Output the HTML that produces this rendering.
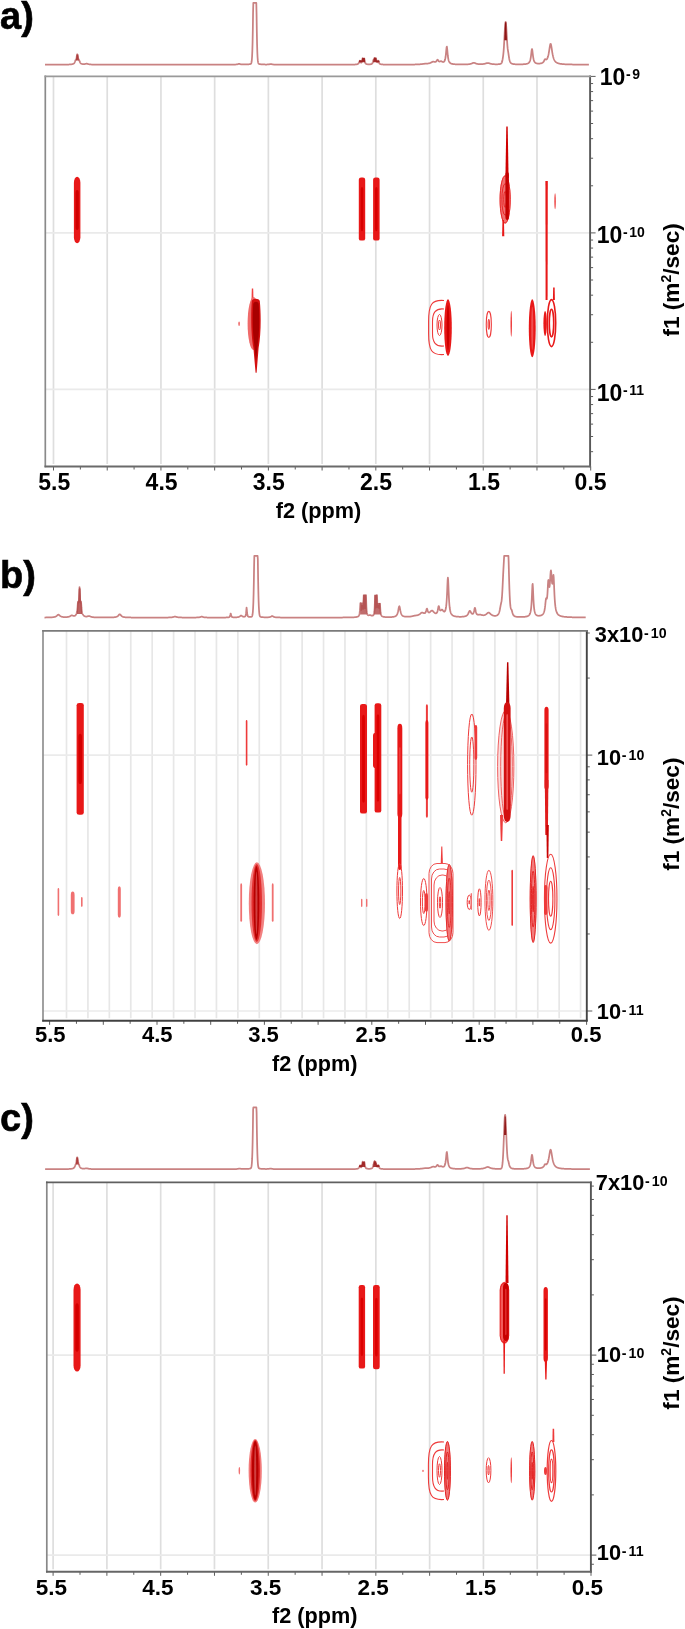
<!DOCTYPE html>
<html><head><meta charset="utf-8"><style>
html,body{margin:0;padding:0;background:#fff;}
svg{display:block;filter:blur(0.35px);}
text{font-family:"Liberation Sans", sans-serif;font-weight:bold;fill:#000000;}
</style></head><body>
<svg width="685" height="1629" viewBox="0 0 685 1629">
<rect width="685" height="1629" fill="#fff"/>
<line x1="53.50" y1="76.3" x2="53.50" y2="464.0" stroke="#dedede" stroke-width="1.7"/>
<line x1="107.22" y1="76.3" x2="107.22" y2="464.0" stroke="#dedede" stroke-width="1.7"/>
<line x1="160.94" y1="76.3" x2="160.94" y2="464.0" stroke="#dedede" stroke-width="1.7"/>
<line x1="214.66" y1="76.3" x2="214.66" y2="464.0" stroke="#dedede" stroke-width="1.7"/>
<line x1="268.38" y1="76.3" x2="268.38" y2="464.0" stroke="#dedede" stroke-width="1.7"/>
<line x1="322.10" y1="76.3" x2="322.10" y2="464.0" stroke="#dedede" stroke-width="1.7"/>
<line x1="375.82" y1="76.3" x2="375.82" y2="464.0" stroke="#dedede" stroke-width="1.7"/>
<line x1="429.54" y1="76.3" x2="429.54" y2="464.0" stroke="#dedede" stroke-width="1.7"/>
<line x1="483.26" y1="76.3" x2="483.26" y2="464.0" stroke="#dedede" stroke-width="1.7"/>
<line x1="536.98" y1="76.3" x2="536.98" y2="464.0" stroke="#dedede" stroke-width="1.7"/>
<line x1="45.3" y1="232.90" x2="590.1" y2="232.90" stroke="#eaeaea" stroke-width="1.6"/>
<line x1="45.3" y1="389.40" x2="590.1" y2="389.40" stroke="#eaeaea" stroke-width="1.6"/>
<line x1="53.50" y1="466.5" x2="53.50" y2="470.5" stroke="#5c5c5c" stroke-width="1"/>
<line x1="80.36" y1="466.5" x2="80.36" y2="469.5" stroke="#5c5c5c" stroke-width="1"/>
<line x1="107.22" y1="466.5" x2="107.22" y2="470.5" stroke="#5c5c5c" stroke-width="1"/>
<line x1="134.08" y1="466.5" x2="134.08" y2="469.5" stroke="#5c5c5c" stroke-width="1"/>
<line x1="160.94" y1="466.5" x2="160.94" y2="470.5" stroke="#5c5c5c" stroke-width="1"/>
<line x1="187.80" y1="466.5" x2="187.80" y2="469.5" stroke="#5c5c5c" stroke-width="1"/>
<line x1="214.66" y1="466.5" x2="214.66" y2="470.5" stroke="#5c5c5c" stroke-width="1"/>
<line x1="241.52" y1="466.5" x2="241.52" y2="469.5" stroke="#5c5c5c" stroke-width="1"/>
<line x1="268.38" y1="466.5" x2="268.38" y2="470.5" stroke="#5c5c5c" stroke-width="1"/>
<line x1="295.24" y1="466.5" x2="295.24" y2="469.5" stroke="#5c5c5c" stroke-width="1"/>
<line x1="322.10" y1="466.5" x2="322.10" y2="470.5" stroke="#5c5c5c" stroke-width="1"/>
<line x1="348.96" y1="466.5" x2="348.96" y2="469.5" stroke="#5c5c5c" stroke-width="1"/>
<line x1="375.82" y1="466.5" x2="375.82" y2="470.5" stroke="#5c5c5c" stroke-width="1"/>
<line x1="402.68" y1="466.5" x2="402.68" y2="469.5" stroke="#5c5c5c" stroke-width="1"/>
<line x1="429.54" y1="466.5" x2="429.54" y2="470.5" stroke="#5c5c5c" stroke-width="1"/>
<line x1="456.40" y1="466.5" x2="456.40" y2="469.5" stroke="#5c5c5c" stroke-width="1"/>
<line x1="483.26" y1="466.5" x2="483.26" y2="470.5" stroke="#5c5c5c" stroke-width="1"/>
<line x1="510.12" y1="466.5" x2="510.12" y2="469.5" stroke="#5c5c5c" stroke-width="1"/>
<line x1="536.98" y1="466.5" x2="536.98" y2="470.5" stroke="#5c5c5c" stroke-width="1"/>
<line x1="563.84" y1="466.5" x2="563.84" y2="469.5" stroke="#5c5c5c" stroke-width="1"/>
<line x1="590.70" y1="466.5" x2="590.70" y2="470.5" stroke="#5c5c5c" stroke-width="1"/>
<line x1="590.1" y1="451.68" x2="593.1" y2="451.68" stroke="#5c5c5c" stroke-width="1"/>
<line x1="590.1" y1="436.51" x2="593.1" y2="436.51" stroke="#5c5c5c" stroke-width="1"/>
<line x1="590.1" y1="424.12" x2="593.1" y2="424.12" stroke="#5c5c5c" stroke-width="1"/>
<line x1="590.1" y1="413.64" x2="593.1" y2="413.64" stroke="#5c5c5c" stroke-width="1"/>
<line x1="590.1" y1="404.57" x2="593.1" y2="404.57" stroke="#5c5c5c" stroke-width="1"/>
<line x1="590.1" y1="396.56" x2="593.1" y2="396.56" stroke="#5c5c5c" stroke-width="1"/>
<line x1="590.1" y1="389.40" x2="595.6" y2="389.40" stroke="#5c5c5c" stroke-width="1"/>
<line x1="590.1" y1="342.29" x2="593.1" y2="342.29" stroke="#5c5c5c" stroke-width="1"/>
<line x1="590.1" y1="314.73" x2="593.1" y2="314.73" stroke="#5c5c5c" stroke-width="1"/>
<line x1="590.1" y1="295.18" x2="593.1" y2="295.18" stroke="#5c5c5c" stroke-width="1"/>
<line x1="590.1" y1="280.01" x2="593.1" y2="280.01" stroke="#5c5c5c" stroke-width="1"/>
<line x1="590.1" y1="267.62" x2="593.1" y2="267.62" stroke="#5c5c5c" stroke-width="1"/>
<line x1="590.1" y1="257.14" x2="593.1" y2="257.14" stroke="#5c5c5c" stroke-width="1"/>
<line x1="590.1" y1="248.07" x2="593.1" y2="248.07" stroke="#5c5c5c" stroke-width="1"/>
<line x1="590.1" y1="240.06" x2="593.1" y2="240.06" stroke="#5c5c5c" stroke-width="1"/>
<line x1="590.1" y1="232.90" x2="595.6" y2="232.90" stroke="#5c5c5c" stroke-width="1"/>
<line x1="590.1" y1="185.79" x2="593.1" y2="185.79" stroke="#5c5c5c" stroke-width="1"/>
<line x1="590.1" y1="158.23" x2="593.1" y2="158.23" stroke="#5c5c5c" stroke-width="1"/>
<line x1="590.1" y1="138.68" x2="593.1" y2="138.68" stroke="#5c5c5c" stroke-width="1"/>
<line x1="590.1" y1="123.51" x2="593.1" y2="123.51" stroke="#5c5c5c" stroke-width="1"/>
<line x1="590.1" y1="111.12" x2="593.1" y2="111.12" stroke="#5c5c5c" stroke-width="1"/>
<line x1="590.1" y1="100.64" x2="593.1" y2="100.64" stroke="#5c5c5c" stroke-width="1"/>
<line x1="590.1" y1="91.57" x2="593.1" y2="91.57" stroke="#5c5c5c" stroke-width="1"/>
<line x1="590.1" y1="83.56" x2="593.1" y2="83.56" stroke="#5c5c5c" stroke-width="1"/>
<line x1="590.1" y1="76.40" x2="595.6" y2="76.40" stroke="#5c5c5c" stroke-width="1"/>
<line x1="66.50" y1="630.8" x2="66.50" y2="1018.3" stroke="#e7e7e7" stroke-width="1.7"/>
<line x1="87.92" y1="630.8" x2="87.92" y2="1018.3" stroke="#e7e7e7" stroke-width="1.7"/>
<line x1="109.34" y1="630.8" x2="109.34" y2="1018.3" stroke="#e7e7e7" stroke-width="1.7"/>
<line x1="130.76" y1="630.8" x2="130.76" y2="1018.3" stroke="#e7e7e7" stroke-width="1.7"/>
<line x1="152.18" y1="630.8" x2="152.18" y2="1018.3" stroke="#e7e7e7" stroke-width="1.7"/>
<line x1="173.60" y1="630.8" x2="173.60" y2="1018.3" stroke="#e7e7e7" stroke-width="1.7"/>
<line x1="195.02" y1="630.8" x2="195.02" y2="1018.3" stroke="#e7e7e7" stroke-width="1.7"/>
<line x1="216.44" y1="630.8" x2="216.44" y2="1018.3" stroke="#e7e7e7" stroke-width="1.7"/>
<line x1="237.86" y1="630.8" x2="237.86" y2="1018.3" stroke="#e7e7e7" stroke-width="1.7"/>
<line x1="259.28" y1="630.8" x2="259.28" y2="1018.3" stroke="#e7e7e7" stroke-width="1.7"/>
<line x1="280.70" y1="630.8" x2="280.70" y2="1018.3" stroke="#e7e7e7" stroke-width="1.7"/>
<line x1="302.12" y1="630.8" x2="302.12" y2="1018.3" stroke="#e7e7e7" stroke-width="1.7"/>
<line x1="323.54" y1="630.8" x2="323.54" y2="1018.3" stroke="#e7e7e7" stroke-width="1.7"/>
<line x1="344.96" y1="630.8" x2="344.96" y2="1018.3" stroke="#e7e7e7" stroke-width="1.7"/>
<line x1="366.38" y1="630.8" x2="366.38" y2="1018.3" stroke="#e7e7e7" stroke-width="1.7"/>
<line x1="387.80" y1="630.8" x2="387.80" y2="1018.3" stroke="#e7e7e7" stroke-width="1.7"/>
<line x1="409.22" y1="630.8" x2="409.22" y2="1018.3" stroke="#e7e7e7" stroke-width="1.7"/>
<line x1="430.64" y1="630.8" x2="430.64" y2="1018.3" stroke="#e7e7e7" stroke-width="1.7"/>
<line x1="452.06" y1="630.8" x2="452.06" y2="1018.3" stroke="#e7e7e7" stroke-width="1.7"/>
<line x1="473.48" y1="630.8" x2="473.48" y2="1018.3" stroke="#e7e7e7" stroke-width="1.7"/>
<line x1="494.90" y1="630.8" x2="494.90" y2="1018.3" stroke="#e7e7e7" stroke-width="1.7"/>
<line x1="516.32" y1="630.8" x2="516.32" y2="1018.3" stroke="#e7e7e7" stroke-width="1.7"/>
<line x1="537.74" y1="630.8" x2="537.74" y2="1018.3" stroke="#e7e7e7" stroke-width="1.7"/>
<line x1="559.16" y1="630.8" x2="559.16" y2="1018.3" stroke="#e7e7e7" stroke-width="1.7"/>
<line x1="580.58" y1="630.8" x2="580.58" y2="1018.3" stroke="#e7e7e7" stroke-width="1.7"/>
<line x1="43.0" y1="755.10" x2="586.8" y2="755.10" stroke="#ebebeb" stroke-width="1.6"/>
<line x1="43.0" y1="1011.00" x2="586.8" y2="1011.00" stroke="#ebebeb" stroke-width="1.6"/>
<line x1="49.60" y1="1020.8" x2="49.60" y2="1024.8" stroke="#5c5c5c" stroke-width="1"/>
<line x1="76.45" y1="1020.8" x2="76.45" y2="1023.8" stroke="#5c5c5c" stroke-width="1"/>
<line x1="103.30" y1="1020.8" x2="103.30" y2="1024.8" stroke="#5c5c5c" stroke-width="1"/>
<line x1="130.15" y1="1020.8" x2="130.15" y2="1023.8" stroke="#5c5c5c" stroke-width="1"/>
<line x1="157.00" y1="1020.8" x2="157.00" y2="1024.8" stroke="#5c5c5c" stroke-width="1"/>
<line x1="183.85" y1="1020.8" x2="183.85" y2="1023.8" stroke="#5c5c5c" stroke-width="1"/>
<line x1="210.70" y1="1020.8" x2="210.70" y2="1024.8" stroke="#5c5c5c" stroke-width="1"/>
<line x1="237.55" y1="1020.8" x2="237.55" y2="1023.8" stroke="#5c5c5c" stroke-width="1"/>
<line x1="264.40" y1="1020.8" x2="264.40" y2="1024.8" stroke="#5c5c5c" stroke-width="1"/>
<line x1="291.25" y1="1020.8" x2="291.25" y2="1023.8" stroke="#5c5c5c" stroke-width="1"/>
<line x1="318.10" y1="1020.8" x2="318.10" y2="1024.8" stroke="#5c5c5c" stroke-width="1"/>
<line x1="344.95" y1="1020.8" x2="344.95" y2="1023.8" stroke="#5c5c5c" stroke-width="1"/>
<line x1="371.80" y1="1020.8" x2="371.80" y2="1024.8" stroke="#5c5c5c" stroke-width="1"/>
<line x1="398.65" y1="1020.8" x2="398.65" y2="1023.8" stroke="#5c5c5c" stroke-width="1"/>
<line x1="425.50" y1="1020.8" x2="425.50" y2="1024.8" stroke="#5c5c5c" stroke-width="1"/>
<line x1="452.35" y1="1020.8" x2="452.35" y2="1023.8" stroke="#5c5c5c" stroke-width="1"/>
<line x1="479.20" y1="1020.8" x2="479.20" y2="1024.8" stroke="#5c5c5c" stroke-width="1"/>
<line x1="506.05" y1="1020.8" x2="506.05" y2="1023.8" stroke="#5c5c5c" stroke-width="1"/>
<line x1="532.90" y1="1020.8" x2="532.90" y2="1024.8" stroke="#5c5c5c" stroke-width="1"/>
<line x1="559.75" y1="1020.8" x2="559.75" y2="1023.8" stroke="#5c5c5c" stroke-width="1"/>
<line x1="586.60" y1="1020.8" x2="586.60" y2="1024.8" stroke="#5c5c5c" stroke-width="1"/>
<line x1="586.8" y1="1011.00" x2="592.3" y2="1011.00" stroke="#5c5c5c" stroke-width="1"/>
<line x1="586.8" y1="933.97" x2="589.8" y2="933.97" stroke="#5c5c5c" stroke-width="1"/>
<line x1="586.8" y1="888.90" x2="589.8" y2="888.90" stroke="#5c5c5c" stroke-width="1"/>
<line x1="586.8" y1="856.93" x2="589.8" y2="856.93" stroke="#5c5c5c" stroke-width="1"/>
<line x1="586.8" y1="832.13" x2="589.8" y2="832.13" stroke="#5c5c5c" stroke-width="1"/>
<line x1="586.8" y1="811.87" x2="589.8" y2="811.87" stroke="#5c5c5c" stroke-width="1"/>
<line x1="586.8" y1="794.74" x2="589.8" y2="794.74" stroke="#5c5c5c" stroke-width="1"/>
<line x1="586.8" y1="779.90" x2="589.8" y2="779.90" stroke="#5c5c5c" stroke-width="1"/>
<line x1="586.8" y1="766.81" x2="589.8" y2="766.81" stroke="#5c5c5c" stroke-width="1"/>
<line x1="586.8" y1="755.10" x2="592.3" y2="755.10" stroke="#5c5c5c" stroke-width="1"/>
<line x1="586.8" y1="678.07" x2="589.8" y2="678.07" stroke="#5c5c5c" stroke-width="1"/>
<line x1="586.8" y1="633.00" x2="589.8" y2="633.00" stroke="#5c5c5c" stroke-width="1"/>
<line x1="53.10" y1="1182.4" x2="53.10" y2="1569.3" stroke="#dedede" stroke-width="1.7"/>
<line x1="106.89" y1="1182.4" x2="106.89" y2="1569.3" stroke="#dedede" stroke-width="1.7"/>
<line x1="160.68" y1="1182.4" x2="160.68" y2="1569.3" stroke="#dedede" stroke-width="1.7"/>
<line x1="214.47" y1="1182.4" x2="214.47" y2="1569.3" stroke="#dedede" stroke-width="1.7"/>
<line x1="268.26" y1="1182.4" x2="268.26" y2="1569.3" stroke="#dedede" stroke-width="1.7"/>
<line x1="322.05" y1="1182.4" x2="322.05" y2="1569.3" stroke="#dedede" stroke-width="1.7"/>
<line x1="375.84" y1="1182.4" x2="375.84" y2="1569.3" stroke="#dedede" stroke-width="1.7"/>
<line x1="429.63" y1="1182.4" x2="429.63" y2="1569.3" stroke="#dedede" stroke-width="1.7"/>
<line x1="483.42" y1="1182.4" x2="483.42" y2="1569.3" stroke="#dedede" stroke-width="1.7"/>
<line x1="537.21" y1="1182.4" x2="537.21" y2="1569.3" stroke="#dedede" stroke-width="1.7"/>
<line x1="46.8" y1="1355.10" x2="590.9" y2="1355.10" stroke="#eaeaea" stroke-width="1.6"/>
<line x1="46.8" y1="1555.10" x2="590.9" y2="1555.10" stroke="#eaeaea" stroke-width="1.6"/>
<line x1="53.10" y1="1571.8" x2="53.10" y2="1575.8" stroke="#5c5c5c" stroke-width="1"/>
<line x1="80.00" y1="1571.8" x2="80.00" y2="1574.8" stroke="#5c5c5c" stroke-width="1"/>
<line x1="106.89" y1="1571.8" x2="106.89" y2="1575.8" stroke="#5c5c5c" stroke-width="1"/>
<line x1="133.78" y1="1571.8" x2="133.78" y2="1574.8" stroke="#5c5c5c" stroke-width="1"/>
<line x1="160.68" y1="1571.8" x2="160.68" y2="1575.8" stroke="#5c5c5c" stroke-width="1"/>
<line x1="187.57" y1="1571.8" x2="187.57" y2="1574.8" stroke="#5c5c5c" stroke-width="1"/>
<line x1="214.47" y1="1571.8" x2="214.47" y2="1575.8" stroke="#5c5c5c" stroke-width="1"/>
<line x1="241.36" y1="1571.8" x2="241.36" y2="1574.8" stroke="#5c5c5c" stroke-width="1"/>
<line x1="268.26" y1="1571.8" x2="268.26" y2="1575.8" stroke="#5c5c5c" stroke-width="1"/>
<line x1="295.15" y1="1571.8" x2="295.15" y2="1574.8" stroke="#5c5c5c" stroke-width="1"/>
<line x1="322.05" y1="1571.8" x2="322.05" y2="1575.8" stroke="#5c5c5c" stroke-width="1"/>
<line x1="348.94" y1="1571.8" x2="348.94" y2="1574.8" stroke="#5c5c5c" stroke-width="1"/>
<line x1="375.84" y1="1571.8" x2="375.84" y2="1575.8" stroke="#5c5c5c" stroke-width="1"/>
<line x1="402.74" y1="1571.8" x2="402.74" y2="1574.8" stroke="#5c5c5c" stroke-width="1"/>
<line x1="429.63" y1="1571.8" x2="429.63" y2="1575.8" stroke="#5c5c5c" stroke-width="1"/>
<line x1="456.53" y1="1571.8" x2="456.53" y2="1574.8" stroke="#5c5c5c" stroke-width="1"/>
<line x1="483.42" y1="1571.8" x2="483.42" y2="1575.8" stroke="#5c5c5c" stroke-width="1"/>
<line x1="510.31" y1="1571.8" x2="510.31" y2="1574.8" stroke="#5c5c5c" stroke-width="1"/>
<line x1="537.21" y1="1571.8" x2="537.21" y2="1575.8" stroke="#5c5c5c" stroke-width="1"/>
<line x1="564.11" y1="1571.8" x2="564.11" y2="1574.8" stroke="#5c5c5c" stroke-width="1"/>
<line x1="591.00" y1="1571.8" x2="591.00" y2="1575.8" stroke="#5c5c5c" stroke-width="1"/>
<line x1="590.9" y1="1564.25" x2="593.9" y2="1564.25" stroke="#5c5c5c" stroke-width="1"/>
<line x1="590.9" y1="1555.10" x2="596.4" y2="1555.10" stroke="#5c5c5c" stroke-width="1"/>
<line x1="590.9" y1="1494.89" x2="593.9" y2="1494.89" stroke="#5c5c5c" stroke-width="1"/>
<line x1="590.9" y1="1459.68" x2="593.9" y2="1459.68" stroke="#5c5c5c" stroke-width="1"/>
<line x1="590.9" y1="1434.69" x2="593.9" y2="1434.69" stroke="#5c5c5c" stroke-width="1"/>
<line x1="590.9" y1="1415.31" x2="593.9" y2="1415.31" stroke="#5c5c5c" stroke-width="1"/>
<line x1="590.9" y1="1399.47" x2="593.9" y2="1399.47" stroke="#5c5c5c" stroke-width="1"/>
<line x1="590.9" y1="1386.08" x2="593.9" y2="1386.08" stroke="#5c5c5c" stroke-width="1"/>
<line x1="590.9" y1="1374.48" x2="593.9" y2="1374.48" stroke="#5c5c5c" stroke-width="1"/>
<line x1="590.9" y1="1364.25" x2="593.9" y2="1364.25" stroke="#5c5c5c" stroke-width="1"/>
<line x1="590.9" y1="1355.10" x2="596.4" y2="1355.10" stroke="#5c5c5c" stroke-width="1"/>
<line x1="590.9" y1="1294.89" x2="593.9" y2="1294.89" stroke="#5c5c5c" stroke-width="1"/>
<line x1="590.9" y1="1259.68" x2="593.9" y2="1259.68" stroke="#5c5c5c" stroke-width="1"/>
<line x1="590.9" y1="1234.69" x2="593.9" y2="1234.69" stroke="#5c5c5c" stroke-width="1"/>
<line x1="590.9" y1="1215.31" x2="593.9" y2="1215.31" stroke="#5c5c5c" stroke-width="1"/>
<line x1="590.9" y1="1199.47" x2="593.9" y2="1199.47" stroke="#5c5c5c" stroke-width="1"/>
<line x1="590.9" y1="1186.08" x2="593.9" y2="1186.08" stroke="#5c5c5c" stroke-width="1"/>
<polyline points="45.00,64.68 45.25,64.68 45.50,64.68 45.75,64.68 46.00,64.68 46.25,64.68 46.50,64.68 46.75,64.68 47.00,64.68 47.25,64.68 47.50,64.68 47.75,64.68 48.00,64.68 48.25,64.68 48.50,64.68 48.75,64.68 49.00,64.68 49.25,64.68 49.50,64.68 49.75,64.68 50.00,64.68 50.25,64.68 50.50,64.68 50.75,64.68 51.00,64.68 51.25,64.68 51.50,64.68 51.75,64.68 52.00,64.68 52.25,64.68 52.50,64.67 52.75,64.67 53.00,64.67 53.25,64.67 53.50,64.67 53.75,64.67 54.00,64.67 54.25,64.67 54.50,64.67 54.75,64.67 55.00,64.67 55.25,64.67 55.50,64.67 55.75,64.67 56.00,64.67 56.25,64.67 56.50,64.67 56.75,64.66 57.00,64.66 57.25,64.66 57.50,64.66 57.75,64.66 58.00,64.66 58.25,64.66 58.50,64.66 58.75,64.66 59.00,64.66 59.25,64.66 59.50,64.65 59.75,64.65 60.00,64.65 60.25,64.65 60.50,64.65 60.75,64.65 61.00,64.65 61.25,64.64 61.50,64.64 61.75,64.64 62.00,64.64 62.25,64.64 62.50,64.63 62.75,64.63 63.00,64.63 63.26,64.63 63.51,64.63 63.76,64.62 64.01,64.62 64.26,64.62 64.51,64.61 64.76,64.61 65.01,64.61 65.26,64.60 65.51,64.60 65.76,64.60 66.01,64.59 66.26,64.59 66.51,64.58 66.76,64.58 67.01,64.57 67.26,64.56 67.51,64.56 67.76,64.55 68.01,64.54 68.26,64.53 68.51,64.52 68.76,64.51 69.01,64.50 69.26,64.49 69.51,64.48 69.76,64.46 70.01,64.45 70.26,64.43 70.51,64.41 70.76,64.38 71.01,64.36 71.26,64.33 71.51,64.30 71.76,64.26 72.01,64.22 72.26,64.16 72.51,64.10 72.76,64.03 73.01,63.95 73.26,63.84 73.51,63.71 73.76,63.55 74.01,63.34 74.26,63.06 74.51,62.69 74.76,62.18 75.01,61.53 75.26,60.80 75.51,60.18 75.76,59.79 76.01,59.40 76.26,58.73 76.51,57.67 76.76,56.29 77.01,54.93 77.26,54.21 77.51,54.59 77.76,55.82 78.01,57.26 78.26,58.46 78.51,59.26 78.76,59.69 79.01,59.94 79.26,60.31 79.51,60.96 79.76,61.68 80.01,62.29 80.26,62.76 80.51,63.10 80.76,63.35 81.01,63.53 81.26,63.68 81.51,63.79 81.76,63.88 82.01,63.95 82.26,64.00 82.51,64.04 82.76,64.07 83.01,64.10 83.26,64.11 83.51,64.12 83.76,64.11 84.01,64.10 84.26,64.09 84.51,64.06 84.76,64.02 85.01,63.98 85.26,63.93 85.51,63.88 85.76,63.82 86.01,63.77 86.26,63.72 86.51,63.70 86.76,63.70 87.01,63.73 87.26,63.78 87.51,63.84 87.76,63.92 88.01,63.99 88.26,64.06 88.51,64.13 88.76,64.19 89.01,64.24 89.26,64.29 89.51,64.33 89.76,64.36 90.01,64.39 90.26,64.42 90.51,64.44 90.76,64.46 91.01,64.48 91.26,64.50 91.51,64.51 91.76,64.52 92.01,64.53 92.26,64.54 92.51,64.55 92.76,64.56 93.01,64.57 93.26,64.58 93.51,64.58 93.76,64.59 94.01,64.59 94.26,64.60 94.51,64.60 94.76,64.61 95.01,64.61 95.26,64.61 95.51,64.62 95.76,64.62 96.01,64.62 96.26,64.63 96.51,64.63 96.76,64.63 97.01,64.63 97.26,64.64 97.51,64.64 97.76,64.64 98.01,64.64 98.26,64.64 98.51,64.65 98.76,64.65 99.01,64.65 99.26,64.65 99.52,64.65 99.77,64.65 100.02,64.65 100.27,64.66 100.52,64.66 100.77,64.66 101.02,64.66 101.27,64.66 101.52,64.66 101.77,64.66 102.02,64.66 102.27,64.66 102.52,64.66 102.77,64.67 103.02,64.67 103.27,64.67 103.52,64.67 103.77,64.67 104.02,64.67 104.27,64.67 104.52,64.67 104.77,64.67 105.02,64.67 105.27,64.67 105.52,64.67 105.77,64.67 106.02,64.67 106.27,64.67 106.52,64.67 106.77,64.67 107.02,64.68 107.27,64.68 107.52,64.68 107.77,64.68 108.02,64.68 108.27,64.68 108.52,64.68 108.77,64.68 109.02,64.68 109.27,64.68 109.52,64.68 109.77,64.68 110.02,64.68 110.27,64.68 110.52,64.68 110.77,64.68 111.02,64.68 111.27,64.68 111.52,64.68 111.77,64.68 112.02,64.68 112.27,64.68 112.52,64.68 112.77,64.68 113.02,64.68 113.27,64.68 113.52,64.68 113.77,64.68 114.02,64.68 114.27,64.68 114.52,64.68 114.77,64.68 115.02,64.68 115.27,64.68 115.52,64.68 115.77,64.68 116.02,64.68 116.27,64.69 116.52,64.69 116.77,64.69 117.02,64.69 117.27,64.69 117.52,64.69 117.77,64.69 118.02,64.69 118.27,64.69 118.52,64.69 118.77,64.69 119.02,64.69 119.27,64.69 119.52,64.69 119.77,64.69 120.02,64.69 120.27,64.69 120.52,64.69 120.77,64.69 121.02,64.69 121.27,64.69 121.52,64.69 121.77,64.69 122.02,64.69 122.27,64.69 122.52,64.69 122.77,64.69 123.02,64.69 123.27,64.69 123.52,64.69 123.77,64.69 124.02,64.69 124.27,64.69 124.52,64.69 124.77,64.69 125.02,64.69 125.27,64.69 125.52,64.69 125.77,64.69 126.02,64.69 126.27,64.69 126.52,64.69 126.77,64.69 127.02,64.69 127.27,64.69 127.52,64.69 127.77,64.69 128.02,64.69 128.27,64.69 128.52,64.69 128.77,64.69 129.02,64.69 129.27,64.69 129.52,64.69 129.77,64.69 130.02,64.69 130.27,64.69 130.52,64.69 130.77,64.69 131.02,64.69 131.27,64.69 131.52,64.69 131.77,64.69 132.02,64.69 132.27,64.69 132.52,64.69 132.77,64.69 133.02,64.69 133.27,64.69 133.52,64.69 133.77,64.69 134.02,64.69 134.27,64.69 134.52,64.69 134.77,64.69 135.02,64.69 135.27,64.69 135.52,64.69 135.78,64.69 136.03,64.69 136.28,64.69 136.53,64.69 136.78,64.69 137.03,64.69 137.28,64.69 137.53,64.69 137.78,64.69 138.03,64.69 138.28,64.69 138.53,64.69 138.78,64.69 139.03,64.69 139.28,64.69 139.53,64.69 139.78,64.69 140.03,64.69 140.28,64.69 140.53,64.69 140.78,64.69 141.03,64.69 141.28,64.69 141.53,64.69 141.78,64.69 142.03,64.69 142.28,64.69 142.53,64.69 142.78,64.69 143.03,64.69 143.28,64.69 143.53,64.69 143.78,64.69 144.03,64.69 144.28,64.69 144.53,64.69 144.78,64.69 145.03,64.69 145.28,64.69 145.53,64.69 145.78,64.69 146.03,64.69 146.28,64.69 146.53,64.69 146.78,64.69 147.03,64.69 147.28,64.69 147.53,64.69 147.78,64.69 148.03,64.69 148.28,64.69 148.53,64.69 148.78,64.69 149.03,64.69 149.28,64.69 149.53,64.69 149.78,64.69 150.03,64.69 150.28,64.69 150.53,64.69 150.78,64.69 151.03,64.69 151.28,64.69 151.53,64.69 151.78,64.69 152.03,64.69 152.28,64.69 152.53,64.69 152.78,64.69 153.03,64.69 153.28,64.69 153.53,64.69 153.78,64.69 154.03,64.69 154.28,64.69 154.53,64.69 154.78,64.69 155.03,64.69 155.28,64.69 155.53,64.69 155.78,64.69 156.03,64.69 156.28,64.69 156.53,64.69 156.78,64.69 157.03,64.69 157.28,64.69 157.53,64.69 157.78,64.69 158.03,64.69 158.28,64.69 158.53,64.69 158.78,64.69 159.03,64.69 159.28,64.69 159.53,64.69 159.78,64.69 160.03,64.69 160.28,64.69 160.53,64.69 160.78,64.69 161.03,64.69 161.28,64.69 161.53,64.69 161.78,64.69 162.03,64.69 162.28,64.69 162.53,64.69 162.78,64.69 163.03,64.69 163.28,64.69 163.53,64.69 163.78,64.69 164.03,64.69 164.28,64.69 164.53,64.69 164.78,64.69 165.03,64.69 165.28,64.69 165.53,64.69 165.78,64.69 166.03,64.69 166.28,64.69 166.53,64.69 166.78,64.69 167.03,64.69 167.28,64.69 167.53,64.69 167.78,64.69 168.03,64.69 168.28,64.69 168.53,64.69 168.78,64.69 169.03,64.69 169.28,64.69 169.53,64.69 169.78,64.69 170.03,64.69 170.28,64.69 170.53,64.69 170.78,64.69 171.03,64.69 171.28,64.69 171.53,64.69 171.78,64.69 172.04,64.69 172.29,64.69 172.54,64.69 172.79,64.69 173.04,64.69 173.29,64.69 173.54,64.69 173.79,64.69 174.04,64.69 174.29,64.69 174.54,64.69 174.79,64.69 175.04,64.69 175.29,64.69 175.54,64.69 175.79,64.69 176.04,64.69 176.29,64.69 176.54,64.69 176.79,64.69 177.04,64.69 177.29,64.69 177.54,64.69 177.79,64.69 178.04,64.69 178.29,64.69 178.54,64.69 178.79,64.69 179.04,64.69 179.29,64.69 179.54,64.69 179.79,64.69 180.04,64.69 180.29,64.69 180.54,64.69 180.79,64.69 181.04,64.69 181.29,64.69 181.54,64.69 181.79,64.69 182.04,64.69 182.29,64.69 182.54,64.69 182.79,64.69 183.04,64.69 183.29,64.69 183.54,64.69 183.79,64.69 184.04,64.69 184.29,64.69 184.54,64.69 184.79,64.69 185.04,64.69 185.29,64.69 185.54,64.69 185.79,64.69 186.04,64.69 186.29,64.69 186.54,64.69 186.79,64.69 187.04,64.69 187.29,64.69 187.54,64.69 187.79,64.69 188.04,64.69 188.29,64.69 188.54,64.69 188.79,64.69 189.04,64.69 189.29,64.69 189.54,64.69 189.79,64.69 190.04,64.69 190.29,64.69 190.54,64.69 190.79,64.69 191.04,64.69 191.29,64.69 191.54,64.69 191.79,64.69 192.04,64.69 192.29,64.69 192.54,64.69 192.79,64.69 193.04,64.69 193.29,64.69 193.54,64.69 193.79,64.69 194.04,64.69 194.29,64.69 194.54,64.69 194.79,64.69 195.04,64.69 195.29,64.69 195.54,64.69 195.79,64.69 196.04,64.69 196.29,64.69 196.54,64.69 196.79,64.69 197.04,64.69 197.29,64.69 197.54,64.69 197.79,64.69 198.04,64.69 198.29,64.69 198.54,64.69 198.79,64.69 199.04,64.69 199.29,64.69 199.54,64.69 199.79,64.69 200.04,64.69 200.29,64.69 200.54,64.69 200.79,64.69 201.04,64.69 201.29,64.69 201.54,64.69 201.79,64.69 202.04,64.69 202.29,64.69 202.54,64.69 202.79,64.69 203.04,64.69 203.29,64.69 203.54,64.69 203.79,64.69 204.04,64.69 204.29,64.69 204.54,64.69 204.79,64.69 205.04,64.69 205.29,64.69 205.54,64.69 205.79,64.69 206.04,64.69 206.29,64.69 206.54,64.69 206.79,64.69 207.04,64.69 207.29,64.69 207.54,64.69 207.79,64.69 208.04,64.69 208.30,64.69 208.55,64.69 208.80,64.69 209.05,64.68 209.30,64.68 209.55,64.68 209.80,64.68 210.05,64.68 210.30,64.68 210.55,64.68 210.80,64.68 211.05,64.68 211.30,64.68 211.55,64.68 211.80,64.68 212.05,64.68 212.30,64.68 212.55,64.68 212.80,64.68 213.05,64.68 213.30,64.68 213.55,64.68 213.80,64.68 214.05,64.68 214.30,64.68 214.55,64.68 214.80,64.68 215.05,64.68 215.30,64.68 215.55,64.68 215.80,64.68 216.05,64.68 216.30,64.68 216.55,64.68 216.80,64.68 217.05,64.68 217.30,64.68 217.55,64.68 217.80,64.68 218.05,64.68 218.30,64.68 218.55,64.68 218.80,64.68 219.05,64.68 219.30,64.68 219.55,64.68 219.80,64.68 220.05,64.68 220.30,64.68 220.55,64.67 220.80,64.67 221.05,64.67 221.30,64.67 221.55,64.67 221.80,64.67 222.05,64.67 222.30,64.67 222.55,64.67 222.80,64.67 223.05,64.67 223.30,64.67 223.55,64.67 223.80,64.67 224.05,64.67 224.30,64.67 224.55,64.67 224.80,64.67 225.05,64.67 225.30,64.67 225.55,64.66 225.80,64.66 226.05,64.66 226.30,64.66 226.55,64.66 226.80,64.66 227.05,64.66 227.30,64.66 227.55,64.66 227.80,64.66 228.05,64.66 228.30,64.65 228.55,64.65 228.80,64.65 229.05,64.65 229.30,64.65 229.55,64.65 229.80,64.65 230.05,64.64 230.30,64.64 230.55,64.64 230.80,64.64 231.05,64.64 231.30,64.63 231.55,64.63 231.80,64.63 232.05,64.63 232.30,64.62 232.55,64.62 232.80,64.61 233.05,64.61 233.30,64.60 233.55,64.60 233.80,64.59 234.05,64.59 234.30,64.58 234.55,64.57 234.80,64.56 235.05,64.55 235.30,64.54 235.55,64.52 235.80,64.50 236.05,64.48 236.30,64.46 236.55,64.42 236.80,64.39 237.05,64.34 237.30,64.29 237.55,64.22 237.80,64.15 238.05,64.06 238.30,63.98 238.55,63.90 238.80,63.85 239.05,63.83 239.30,63.86 239.55,63.92 239.80,64.00 240.05,64.08 240.30,64.16 240.55,64.23 240.80,64.28 241.05,64.33 241.30,64.36 241.55,64.39 241.80,64.42 242.05,64.43 242.30,64.45 242.55,64.46 242.80,64.47 243.05,64.48 243.30,64.48 243.55,64.48 243.80,64.48 244.05,64.48 244.30,64.48 244.56,64.48 244.81,64.48 245.06,64.47 245.31,64.47 245.56,64.46 245.81,64.46 246.06,64.45 246.31,64.44 246.56,64.43 246.81,64.42 247.06,64.41 247.31,64.39 247.56,64.38 247.81,64.36 248.06,64.34 248.31,64.32 248.56,64.30 248.81,64.27 249.06,64.25 249.31,64.22 249.56,64.18 249.81,64.14 250.06,64.10 250.31,64.04 250.56,63.96 250.81,63.81 251.06,63.55 251.31,63.04 251.56,62.06 251.81,60.24 252.06,57.00 252.31,51.56 252.56,42.97 252.81,30.26 253.06,12.73 253.31,2.90 253.56,2.90 253.81,2.90 254.06,2.90 254.31,2.90 254.56,2.90 254.81,2.90 255.06,2.90 255.31,2.90 255.56,2.90 255.81,2.90 256.06,2.90 256.31,2.90 256.56,13.99 256.81,31.20 257.06,43.62 257.31,51.98 257.56,57.26 257.81,60.39 258.06,62.14 258.31,63.08 258.56,63.57 258.81,63.83 259.06,63.96 259.31,64.05 259.56,64.10 259.81,64.15 260.06,64.19 260.31,64.22 260.56,64.25 260.81,64.28 261.06,64.30 261.31,64.33 261.56,64.35 261.81,64.37 262.06,64.38 262.31,64.40 262.56,64.41 262.81,64.42 263.06,64.44 263.31,64.45 263.56,64.46 263.81,64.47 264.06,64.47 264.31,64.48 264.56,64.49 264.81,64.49 265.06,64.50 265.31,64.50 265.56,64.50 265.81,64.50 266.06,64.51 266.31,64.50 266.56,64.50 266.81,64.50 267.06,64.50 267.31,64.49 267.56,64.48 267.81,64.47 268.06,64.46 268.31,64.44 268.56,64.42 268.81,64.39 269.06,64.35 269.31,64.31 269.56,64.26 269.81,64.20 270.06,64.14 270.31,64.08 270.56,64.04 270.81,64.03 271.06,64.05 271.31,64.10 271.56,64.16 271.81,64.23 272.06,64.29 272.31,64.34 272.56,64.39 272.81,64.43 273.06,64.46 273.31,64.49 273.56,64.51 273.81,64.53 274.06,64.54 274.31,64.55 274.56,64.57 274.81,64.58 275.06,64.58 275.31,64.59 275.56,64.60 275.81,64.60 276.06,64.61 276.31,64.61 276.56,64.62 276.81,64.62 277.06,64.62 277.31,64.63 277.56,64.63 277.81,64.63 278.06,64.64 278.31,64.64 278.56,64.64 278.81,64.64 279.06,64.64 279.31,64.64 279.56,64.65 279.81,64.65 280.06,64.65 280.31,64.65 280.56,64.65 280.82,64.65 281.07,64.65 281.32,64.65 281.57,64.66 281.82,64.66 282.07,64.66 282.32,64.66 282.57,64.66 282.82,64.66 283.07,64.66 283.32,64.66 283.57,64.66 283.82,64.66 284.07,64.66 284.32,64.66 284.57,64.66 284.82,64.67 285.07,64.67 285.32,64.67 285.57,64.67 285.82,64.67 286.07,64.67 286.32,64.67 286.57,64.67 286.82,64.67 287.07,64.67 287.32,64.67 287.57,64.67 287.82,64.67 288.07,64.67 288.32,64.67 288.57,64.67 288.82,64.67 289.07,64.67 289.32,64.67 289.57,64.67 289.82,64.67 290.07,64.67 290.32,64.67 290.57,64.67 290.82,64.67 291.07,64.67 291.32,64.67 291.57,64.67 291.82,64.68 292.07,64.68 292.32,64.68 292.57,64.68 292.82,64.68 293.07,64.68 293.32,64.68 293.57,64.68 293.82,64.68 294.07,64.68 294.32,64.68 294.57,64.68 294.82,64.68 295.07,64.68 295.32,64.68 295.57,64.68 295.82,64.68 296.07,64.68 296.32,64.68 296.57,64.68 296.82,64.68 297.07,64.68 297.32,64.68 297.57,64.68 297.82,64.68 298.07,64.68 298.32,64.68 298.57,64.68 298.82,64.68 299.07,64.68 299.32,64.68 299.57,64.68 299.82,64.68 300.07,64.68 300.32,64.68 300.57,64.68 300.82,64.68 301.07,64.68 301.32,64.68 301.57,64.68 301.82,64.68 302.07,64.68 302.32,64.68 302.57,64.68 302.82,64.68 303.07,64.68 303.32,64.68 303.57,64.68 303.82,64.68 304.07,64.68 304.32,64.68 304.57,64.68 304.82,64.68 305.07,64.68 305.32,64.68 305.57,64.68 305.82,64.68 306.07,64.68 306.32,64.68 306.57,64.68 306.82,64.68 307.07,64.68 307.32,64.68 307.57,64.68 307.82,64.68 308.07,64.68 308.32,64.68 308.57,64.68 308.82,64.68 309.07,64.68 309.32,64.68 309.57,64.68 309.82,64.68 310.07,64.68 310.32,64.68 310.57,64.68 310.82,64.68 311.07,64.68 311.32,64.68 311.57,64.68 311.82,64.68 312.07,64.68 312.32,64.68 312.57,64.68 312.82,64.68 313.07,64.68 313.32,64.68 313.57,64.68 313.82,64.68 314.07,64.68 314.32,64.68 314.57,64.68 314.82,64.68 315.07,64.68 315.32,64.68 315.57,64.68 315.82,64.68 316.07,64.68 316.32,64.68 316.57,64.68 316.82,64.68 317.08,64.68 317.33,64.68 317.58,64.68 317.83,64.68 318.08,64.68 318.33,64.68 318.58,64.68 318.83,64.68 319.08,64.68 319.33,64.68 319.58,64.68 319.83,64.68 320.08,64.68 320.33,64.68 320.58,64.68 320.83,64.68 321.08,64.68 321.33,64.68 321.58,64.68 321.83,64.68 322.08,64.68 322.33,64.68 322.58,64.68 322.83,64.68 323.08,64.68 323.33,64.68 323.58,64.68 323.83,64.68 324.08,64.68 324.33,64.68 324.58,64.68 324.83,64.68 325.08,64.68 325.33,64.68 325.58,64.68 325.83,64.68 326.08,64.68 326.33,64.68 326.58,64.68 326.83,64.68 327.08,64.68 327.33,64.68 327.58,64.68 327.83,64.68 328.08,64.68 328.33,64.68 328.58,64.68 328.83,64.68 329.08,64.68 329.33,64.68 329.58,64.68 329.83,64.68 330.08,64.68 330.33,64.68 330.58,64.68 330.83,64.68 331.08,64.68 331.33,64.68 331.58,64.68 331.83,64.68 332.08,64.68 332.33,64.68 332.58,64.68 332.83,64.68 333.08,64.68 333.33,64.67 333.58,64.67 333.83,64.67 334.08,64.67 334.33,64.67 334.58,64.67 334.83,64.67 335.08,64.67 335.33,64.67 335.58,64.67 335.83,64.67 336.08,64.67 336.33,64.67 336.58,64.67 336.83,64.67 337.08,64.67 337.33,64.67 337.58,64.67 337.83,64.67 338.08,64.67 338.33,64.67 338.58,64.67 338.83,64.67 339.08,64.67 339.33,64.67 339.58,64.67 339.83,64.67 340.08,64.67 340.33,64.67 340.58,64.67 340.83,64.67 341.08,64.67 341.33,64.66 341.58,64.66 341.83,64.66 342.08,64.66 342.33,64.66 342.58,64.66 342.83,64.66 343.08,64.66 343.33,64.66 343.58,64.66 343.83,64.66 344.08,64.66 344.33,64.66 344.58,64.66 344.83,64.66 345.08,64.66 345.33,64.65 345.58,64.65 345.83,64.65 346.08,64.65 346.33,64.65 346.58,64.65 346.83,64.65 347.08,64.65 347.33,64.65 347.58,64.64 347.83,64.64 348.08,64.64 348.33,64.64 348.58,64.64 348.83,64.64 349.08,64.64 349.33,64.63 349.58,64.63 349.83,64.63 350.08,64.63 350.33,64.62 350.58,64.62 350.83,64.62 351.08,64.62 351.33,64.61 351.58,64.61 351.83,64.61 352.08,64.60 352.33,64.60 352.58,64.59 352.83,64.59 353.08,64.58 353.34,64.58 353.59,64.57 353.84,64.56 354.09,64.55 354.34,64.54 354.59,64.53 354.84,64.52 355.09,64.51 355.34,64.49 355.59,64.47 355.84,64.45 356.09,64.43 356.34,64.40 356.59,64.36 356.84,64.32 357.09,64.27 357.34,64.20 357.59,64.12 357.84,64.01 358.09,63.86 358.34,63.66 358.59,63.38 358.84,62.98 359.09,62.41 359.34,61.69 359.59,60.98 359.84,60.70 360.09,61.04 360.34,61.67 360.59,62.22 360.84,62.56 361.09,62.70 361.34,62.63 361.59,62.34 361.84,61.73 362.09,60.66 362.34,59.19 362.59,58.21 362.84,58.76 363.09,59.87 363.34,60.44 363.59,60.24 363.84,59.32 364.09,58.29 364.34,58.58 364.59,60.09 364.84,61.52 365.09,62.47 365.34,63.06 365.59,63.44 365.84,63.70 366.09,63.87 366.34,63.99 366.59,64.09 366.84,64.16 367.09,64.21 367.34,64.25 367.59,64.28 367.84,64.30 368.09,64.32 368.34,64.33 368.59,64.34 368.84,64.34 369.09,64.34 369.34,64.34 369.59,64.33 369.84,64.31 370.09,64.29 370.34,64.27 370.59,64.24 370.84,64.19 371.09,64.14 371.34,64.06 371.59,63.97 371.84,63.83 372.09,63.64 372.34,63.37 372.59,62.95 372.84,62.29 373.09,61.30 373.34,60.16 373.59,59.62 373.84,59.80 374.09,59.72 374.34,58.91 374.59,57.87 374.84,57.90 375.09,58.85 375.34,59.39 375.59,59.08 375.84,58.32 376.09,58.40 376.34,59.68 376.59,60.99 376.84,61.81 377.09,62.21 377.34,62.27 377.59,62.03 377.84,61.51 378.09,60.89 378.34,60.73 378.59,61.30 378.84,62.14 379.09,62.83 379.34,63.30 379.59,63.62 379.84,63.84 380.09,64.00 380.34,64.11 380.59,64.20 380.84,64.26 381.09,64.31 381.34,64.35 381.59,64.39 381.84,64.42 382.09,64.44 382.34,64.46 382.59,64.48 382.84,64.49 383.09,64.51 383.34,64.52 383.59,64.53 383.84,64.54 384.09,64.54 384.34,64.55 384.59,64.56 384.84,64.56 385.09,64.57 385.34,64.57 385.59,64.58 385.84,64.58 386.09,64.59 386.34,64.59 386.59,64.59 386.84,64.60 387.09,64.60 387.34,64.60 387.59,64.60 387.84,64.61 388.09,64.61 388.34,64.61 388.59,64.61 388.84,64.61 389.09,64.61 389.34,64.61 389.60,64.62 389.85,64.62 390.10,64.62 390.35,64.62 390.60,64.62 390.85,64.62 391.10,64.62 391.35,64.62 391.60,64.62 391.85,64.62 392.10,64.62 392.35,64.62 392.60,64.62 392.85,64.63 393.10,64.63 393.35,64.63 393.60,64.63 393.85,64.63 394.10,64.63 394.35,64.63 394.60,64.63 394.85,64.63 395.10,64.63 395.35,64.63 395.60,64.63 395.85,64.63 396.10,64.63 396.35,64.63 396.60,64.63 396.85,64.63 397.10,64.63 397.35,64.63 397.60,64.63 397.85,64.63 398.10,64.62 398.35,64.62 398.60,64.62 398.85,64.62 399.10,64.62 399.35,64.62 399.60,64.62 399.85,64.62 400.10,64.62 400.35,64.62 400.60,64.62 400.85,64.62 401.10,64.62 401.35,64.62 401.60,64.62 401.85,64.62 402.10,64.62 402.35,64.62 402.60,64.61 402.85,64.61 403.10,64.61 403.35,64.61 403.60,64.61 403.85,64.61 404.10,64.61 404.35,64.61 404.60,64.61 404.85,64.61 405.10,64.60 405.35,64.60 405.60,64.60 405.85,64.60 406.10,64.60 406.35,64.60 406.60,64.60 406.85,64.60 407.10,64.59 407.35,64.59 407.60,64.59 407.85,64.59 408.10,64.59 408.35,64.58 408.60,64.58 408.85,64.58 409.10,64.58 409.35,64.58 409.60,64.57 409.85,64.57 410.10,64.57 410.35,64.57 410.60,64.56 410.85,64.56 411.10,64.56 411.35,64.56 411.60,64.55 411.85,64.55 412.10,64.55 412.35,64.54 412.60,64.54 412.85,64.54 413.10,64.53 413.35,64.53 413.60,64.52 413.85,64.52 414.10,64.51 414.35,64.51 414.60,64.50 414.85,64.50 415.10,64.49 415.35,64.48 415.60,64.48 415.85,64.47 416.10,64.46 416.35,64.46 416.60,64.45 416.85,64.44 417.10,64.43 417.35,64.42 417.60,64.41 417.85,64.40 418.10,64.39 418.35,64.38 418.60,64.36 418.85,64.35 419.10,64.33 419.35,64.32 419.60,64.30 419.85,64.28 420.10,64.26 420.35,64.24 420.60,64.22 420.85,64.20 421.10,64.17 421.35,64.14 421.60,64.12 421.85,64.09 422.10,64.05 422.35,64.02 422.60,63.99 422.85,63.95 423.10,63.92 423.35,63.89 423.60,63.85 423.85,63.82 424.10,63.79 424.35,63.76 424.60,63.73 424.85,63.71 425.10,63.69 425.35,63.67 425.60,63.66 425.86,63.65 426.11,63.64 426.36,63.63 426.61,63.62 426.86,63.61 427.11,63.59 427.36,63.58 427.61,63.56 427.86,63.53 428.11,63.50 428.36,63.46 428.61,63.42 428.86,63.37 429.11,63.31 429.36,63.24 429.61,63.17 429.86,63.08 430.11,62.98 430.36,62.88 430.61,62.76 430.86,62.64 431.11,62.50 431.36,62.37 431.61,62.23 431.86,62.10 432.11,61.97 432.36,61.87 432.61,61.78 432.86,61.72 433.11,61.69 433.36,61.69 433.61,61.71 433.86,61.75 434.11,61.80 434.36,61.85 434.61,61.90 434.86,61.93 435.11,61.93 435.36,61.91 435.61,61.84 435.86,61.71 436.11,61.51 436.36,61.23 436.61,60.87 436.86,60.44 437.11,60.03 437.36,59.75 437.61,59.72 437.86,59.95 438.11,60.32 438.36,60.72 438.61,61.05 438.86,61.30 439.11,61.45 439.36,61.52 439.61,61.52 439.86,61.47 440.11,61.39 440.36,61.30 440.61,61.23 440.86,61.20 441.11,61.21 441.36,61.28 441.61,61.40 441.86,61.54 442.11,61.68 442.36,61.81 442.61,61.91 442.86,61.98 443.11,62.01 443.36,61.99 443.61,61.91 443.86,61.77 444.11,61.55 444.36,61.24 444.61,60.80 444.86,60.20 445.11,59.38 445.36,58.26 445.61,56.74 445.86,54.70 446.11,52.13 446.36,49.32 446.61,47.09 446.86,46.57 447.11,48.09 447.36,50.80 447.61,53.61 447.86,55.98 448.11,57.82 448.36,59.19 448.61,60.22 448.86,61.00 449.11,61.60 449.36,62.06 449.61,62.42 449.86,62.71 450.11,62.95 450.36,63.14 450.61,63.30 450.86,63.44 451.11,63.56 451.36,63.65 451.61,63.74 451.86,63.81 452.11,63.88 452.36,63.93 452.61,63.98 452.86,64.03 453.11,64.07 453.36,64.10 453.61,64.13 453.86,64.16 454.11,64.19 454.36,64.21 454.61,64.23 454.86,64.25 455.11,64.27 455.36,64.28 455.61,64.30 455.86,64.31 456.11,64.33 456.36,64.34 456.61,64.35 456.86,64.36 457.11,64.37 457.36,64.38 457.61,64.38 457.86,64.39 458.11,64.40 458.36,64.40 458.61,64.41 458.86,64.41 459.11,64.42 459.36,64.42 459.61,64.43 459.86,64.43 460.11,64.43 460.36,64.43 460.61,64.44 460.86,64.44 461.11,64.44 461.36,64.44 461.61,64.44 461.86,64.44 462.12,64.44 462.37,64.44 462.62,64.44 462.87,64.44 463.12,64.44 463.37,64.44 463.62,64.44 463.87,64.43 464.12,64.43 464.37,64.43 464.62,64.42 464.87,64.42 465.12,64.41 465.37,64.41 465.62,64.40 465.87,64.39 466.12,64.38 466.37,64.37 466.62,64.36 466.87,64.35 467.12,64.34 467.37,64.33 467.62,64.31 467.87,64.29 468.12,64.27 468.37,64.25 468.62,64.23 468.87,64.20 469.12,64.17 469.37,64.14 469.62,64.10 469.87,64.06 470.12,64.01 470.37,63.95 470.62,63.89 470.87,63.82 471.12,63.74 471.37,63.66 471.62,63.56 471.87,63.46 472.12,63.35 472.37,63.24 472.62,63.13 472.87,63.02 473.12,62.92 473.37,62.85 473.62,62.81 473.87,62.80 474.12,62.82 474.37,62.88 474.62,62.96 474.87,63.06 475.12,63.17 475.37,63.28 475.62,63.38 475.87,63.49 476.12,63.58 476.37,63.67 476.62,63.74 476.87,63.81 477.12,63.87 477.37,63.92 477.62,63.97 477.87,64.01 478.12,64.04 478.37,64.07 478.62,64.09 478.87,64.11 479.12,64.13 479.37,64.15 479.62,64.16 479.87,64.16 480.12,64.17 480.37,64.17 480.62,64.17 480.87,64.17 481.12,64.17 481.37,64.16 481.62,64.15 481.87,64.14 482.12,64.12 482.37,64.10 482.62,64.08 482.87,64.06 483.12,64.03 483.37,64.00 483.62,63.96 483.87,63.92 484.12,63.88 484.37,63.82 484.62,63.77 484.87,63.71 485.12,63.64 485.37,63.57 485.62,63.49 485.87,63.41 486.12,63.33 486.37,63.25 486.62,63.17 486.87,63.11 487.12,63.05 487.37,63.02 487.62,63.00 487.87,63.01 488.12,63.03 488.37,63.07 488.62,63.13 488.87,63.21 489.12,63.28 489.37,63.37 489.62,63.45 489.87,63.53 490.12,63.61 490.37,63.68 490.62,63.75 490.87,63.81 491.12,63.87 491.37,63.92 491.62,63.97 491.87,64.01 492.12,64.05 492.37,64.08 492.62,64.11 492.87,64.14 493.12,64.16 493.37,64.18 493.62,64.20 493.87,64.22 494.12,64.23 494.37,64.24 494.62,64.25 494.87,64.26 495.12,64.27 495.37,64.28 495.62,64.28 495.87,64.28 496.12,64.29 496.37,64.29 496.62,64.28 496.87,64.28 497.12,64.28 497.37,64.27 497.62,64.26 497.87,64.25 498.12,64.24 498.38,64.22 498.63,64.20 498.88,64.18 499.13,64.15 499.38,64.12 499.63,64.08 499.88,64.03 500.13,63.97 500.38,63.89 500.63,63.79 500.88,63.66 501.13,63.49 501.38,63.24 501.63,62.89 501.88,62.37 502.13,61.62 502.38,60.57 502.63,59.19 502.88,57.57 503.13,55.76 503.38,53.64 503.63,50.92 503.88,47.40 504.13,43.10 504.38,38.28 504.63,33.33 504.88,28.74 505.13,25.01 505.38,22.60 505.63,21.79 505.88,22.68 506.13,25.11 506.38,28.73 506.63,33.07 506.88,37.60 507.13,41.83 507.38,45.40 507.63,48.13 507.88,50.12 508.13,51.67 508.38,53.19 508.63,54.86 508.88,56.59 509.13,58.18 509.38,59.49 509.63,60.52 509.88,61.31 510.13,61.90 510.38,62.36 510.63,62.71 510.88,62.99 511.13,63.21 511.38,63.38 511.63,63.53 511.88,63.65 512.13,63.75 512.38,63.83 512.63,63.90 512.88,63.96 513.13,64.02 513.38,64.06 513.63,64.10 513.88,64.13 514.13,64.16 514.38,64.19 514.63,64.21 514.88,64.23 515.13,64.25 515.38,64.27 515.63,64.28 515.88,64.29 516.13,64.30 516.38,64.31 516.63,64.32 516.88,64.33 517.13,64.33 517.38,64.34 517.63,64.34 517.88,64.35 518.13,64.35 518.38,64.35 518.63,64.35 518.88,64.35 519.13,64.35 519.38,64.35 519.63,64.35 519.88,64.35 520.13,64.35 520.38,64.34 520.63,64.34 520.88,64.33 521.13,64.33 521.38,64.32 521.63,64.32 521.88,64.31 522.13,64.30 522.38,64.29 522.63,64.28 522.88,64.27 523.13,64.26 523.38,64.24 523.63,64.23 523.88,64.21 524.13,64.20 524.38,64.18 524.63,64.15 524.88,64.13 525.13,64.10 525.38,64.07 525.63,64.04 525.88,64.00 526.13,63.96 526.38,63.91 526.63,63.86 526.88,63.79 527.13,63.72 527.38,63.64 527.63,63.55 527.88,63.44 528.13,63.30 528.38,63.15 528.63,62.96 528.88,62.74 529.13,62.46 529.38,62.12 529.63,61.69 529.88,61.14 530.13,60.44 530.38,59.52 530.63,58.33 530.88,56.79 531.13,54.85 531.38,52.61 531.63,50.45 531.88,49.07 532.13,49.12 532.38,50.58 532.63,52.75 532.88,54.96 533.13,56.85 533.38,58.36 533.63,59.51 533.88,60.40 534.13,61.07 534.38,61.60 534.64,62.00 534.89,62.32 535.14,62.58 535.39,62.79 535.64,62.95 535.89,63.09 536.14,63.20 536.39,63.29 536.64,63.36 536.89,63.42 537.14,63.47 537.39,63.51 537.64,63.54 537.89,63.56 538.14,63.58 538.39,63.59 538.64,63.59 538.89,63.59 539.14,63.58 539.39,63.56 539.64,63.54 539.89,63.52 540.14,63.49 540.39,63.45 540.64,63.41 540.89,63.36 541.14,63.30 541.39,63.23 541.64,63.15 541.89,63.06 542.14,62.95 542.39,62.82 542.64,62.66 542.89,62.48 543.14,62.25 543.39,61.98 543.64,61.64 543.89,61.23 544.14,60.75 544.39,60.21 544.64,59.69 544.89,59.31 545.14,59.14 545.39,59.18 545.64,59.33 545.89,59.47 546.14,59.53 546.39,59.49 546.64,59.33 546.89,59.07 547.14,58.69 547.39,58.21 547.64,57.60 547.89,56.87 548.14,55.99 548.39,54.96 548.64,53.76 548.89,52.40 549.14,50.89 549.39,49.26 549.64,47.62 549.89,46.08 550.14,44.82 550.39,44.02 550.64,43.81 550.89,44.24 551.14,45.23 551.39,46.63 551.64,48.25 551.89,49.93 552.14,51.56 552.39,53.07 552.64,54.42 552.89,55.62 553.14,56.66 553.39,57.56 553.64,58.33 553.89,59.01 554.14,59.59 554.39,60.09 554.64,60.53 554.89,60.91 555.14,61.24 555.39,61.54 555.64,61.80 555.89,62.03 556.14,62.23 556.39,62.41 556.64,62.58 556.89,62.72 557.14,62.86 557.39,62.98 557.64,63.08 557.89,63.18 558.14,63.27 558.39,63.35 558.64,63.43 558.89,63.50 559.14,63.56 559.39,63.62 559.64,63.68 559.89,63.73 560.14,63.77 560.39,63.82 560.64,63.86 560.89,63.89 561.14,63.93 561.39,63.96 561.64,63.99 561.89,64.02 562.14,64.05 562.39,64.07 562.64,64.10 562.89,64.12 563.14,64.14 563.39,64.16 563.64,64.18 563.89,64.20 564.14,64.22 564.39,64.23 564.64,64.25 564.89,64.26 565.14,64.28 565.39,64.29 565.64,64.30 565.89,64.31 566.14,64.32 566.39,64.34 566.64,64.35 566.89,64.36 567.14,64.37 567.39,64.37 567.64,64.38 567.89,64.39 568.14,64.40 568.39,64.41 568.64,64.42 568.89,64.42 569.14,64.43 569.39,64.44 569.64,64.44 569.89,64.45 570.14,64.45 570.39,64.46 570.64,64.47 570.90,64.47 571.15,64.48 571.40,64.48 571.65,64.49 571.90,64.49 572.15,64.49 572.40,64.50 572.65,64.50 572.90,64.51 573.15,64.51 573.40,64.52 573.65,64.52 573.90,64.52 574.15,64.53 574.40,64.53 574.65,64.53 574.90,64.54 575.15,64.54 575.40,64.54 575.65,64.54 575.90,64.55 576.15,64.55 576.40,64.55 576.65,64.56 576.90,64.56 577.15,64.56 577.40,64.56 577.65,64.56 577.90,64.57 578.15,64.57 578.40,64.57 578.65,64.57 578.90,64.58 579.15,64.58 579.40,64.58 579.65,64.58 579.90,64.58 580.15,64.58 580.40,64.59 580.65,64.59 580.90,64.59 581.15,64.59 581.40,64.59 581.65,64.59 581.90,64.60 582.15,64.60 582.40,64.60 582.65,64.60 582.90,64.60 583.15,64.60 583.40,64.60 583.65,64.61 583.90,64.61 584.15,64.61 584.40,64.61 584.65,64.61 584.90,64.61 585.15,64.61 585.40,64.61 585.65,64.62 585.90,64.62 586.15,64.62 586.40,64.62 586.65,64.62 586.90,64.62 587.15,64.62 587.40,64.62 587.65,64.62 587.90,64.62 588.15,64.63 588.40,64.63 588.65,64.63 588.90,64.63" fill="none" stroke="#c98282" stroke-width="1.75" stroke-linejoin="round"/>
<polygon points="75.90,60.50 76.60,54.40 78.20,54.40 78.90,60.50" fill="#a83030" opacity="0.85"/>
<polygon points="358.90,62.30 359.30,60.30 361.80,60.30 362.20,57.90 364.80,57.90 365.20,62.30" fill="#9a1818" opacity="0.9"/>
<polygon points="373.10,62.30 373.80,57.70 376.20,57.70 376.80,60.50 379.20,60.50 379.60,62.30" fill="#9a1818" opacity="0.9"/>
<polygon points="504.30,40.20 505.00,22.30 506.30,22.30 506.90,40.20" fill="#8a0c0c" opacity="0.95"/>
<polyline points="44.50,617.51 44.75,617.51 45.00,617.50 45.25,617.50 45.50,617.50 45.75,617.49 46.00,617.49 46.25,617.49 46.50,617.48 46.75,617.48 47.00,617.48 47.25,617.47 47.50,617.47 47.75,617.46 48.00,617.46 48.25,617.45 48.50,617.45 48.75,617.44 49.00,617.43 49.25,617.43 49.50,617.42 49.75,617.41 50.00,617.40 50.25,617.39 50.50,617.38 50.75,617.37 51.00,617.36 51.25,617.34 51.50,617.33 51.75,617.31 52.00,617.30 52.25,617.28 52.50,617.25 52.75,617.23 53.00,617.20 53.25,617.17 53.50,617.14 53.75,617.10 54.00,617.06 54.25,617.01 54.50,616.95 54.75,616.88 55.00,616.81 55.25,616.72 55.50,616.62 55.75,616.51 56.00,616.37 56.25,616.22 56.50,616.04 56.75,615.85 57.00,615.63 57.25,615.40 57.50,615.18 57.75,614.97 58.00,614.81 58.26,614.72 58.51,614.71 58.76,614.78 59.01,614.93 59.26,615.12 59.51,615.34 59.76,615.57 60.01,615.78 60.26,615.97 60.51,616.15 60.76,616.30 61.01,616.43 61.26,616.54 61.51,616.64 61.76,616.72 62.01,616.79 62.26,616.85 62.51,616.90 62.76,616.94 63.01,616.98 63.26,617.01 63.51,617.03 63.76,617.05 64.01,617.07 64.26,617.08 64.51,617.09 64.76,617.10 65.01,617.11 65.26,617.11 65.51,617.11 65.76,617.10 66.01,617.09 66.26,617.08 66.51,617.07 66.76,617.05 67.01,617.03 67.26,617.01 67.51,616.98 67.76,616.95 68.01,616.91 68.26,616.86 68.51,616.81 68.76,616.74 69.01,616.67 69.26,616.58 69.51,616.48 69.76,616.37 70.01,616.24 70.26,616.10 70.51,615.94 70.76,615.79 71.01,615.64 71.26,615.52 71.51,615.43 71.76,615.40 72.01,615.41 72.26,615.46 72.51,615.55 72.76,615.65 73.01,615.74 73.26,615.83 73.51,615.89 73.76,615.93 74.01,615.95 74.26,615.93 74.51,615.89 74.76,615.81 75.01,615.68 75.26,615.51 75.51,615.27 75.76,614.96 76.01,614.58 76.26,614.13 76.51,613.57 76.76,612.85 77.01,611.79 77.26,610.12 77.51,607.46 77.76,603.95 78.01,601.55 78.26,601.97 78.51,602.71 78.76,601.33 79.01,597.04 79.26,590.57 79.51,587.11 79.76,591.24 80.01,597.63 80.26,601.61 80.51,602.71 80.76,601.84 81.01,601.66 81.26,604.38 81.51,607.94 81.76,610.55 82.01,612.19 82.26,613.20 82.51,613.83 82.76,614.27 83.01,614.62 83.26,614.94 83.51,615.26 83.76,615.55 84.01,615.79 84.26,615.99 84.51,616.15 84.76,616.28 85.01,616.37 85.27,616.45 85.52,616.50 85.77,616.53 86.02,616.55 86.27,616.55 86.52,616.54 86.77,616.51 87.02,616.47 87.27,616.41 87.52,616.34 87.77,616.27 88.02,616.18 88.27,616.10 88.52,616.04 88.77,616.00 89.02,616.00 89.27,616.04 89.52,616.11 89.77,616.21 90.02,616.32 90.27,616.43 90.52,616.55 90.77,616.65 91.02,616.74 91.27,616.83 91.52,616.90 91.77,616.96 92.02,617.02 92.27,617.07 92.52,617.11 92.77,617.15 93.02,617.18 93.27,617.21 93.52,617.23 93.77,617.26 94.02,617.28 94.27,617.29 94.52,617.31 94.77,617.33 95.02,617.34 95.27,617.35 95.52,617.36 95.77,617.37 96.02,617.38 96.27,617.39 96.52,617.40 96.77,617.40 97.02,617.41 97.27,617.42 97.52,617.42 97.77,617.43 98.02,617.43 98.27,617.44 98.52,617.44 98.77,617.45 99.02,617.45 99.27,617.45 99.52,617.46 99.77,617.46 100.02,617.46 100.27,617.46 100.52,617.47 100.77,617.47 101.02,617.47 101.27,617.47 101.52,617.47 101.77,617.47 102.02,617.48 102.27,617.48 102.52,617.48 102.77,617.48 103.02,617.48 103.27,617.48 103.52,617.48 103.77,617.48 104.02,617.48 104.27,617.48 104.52,617.48 104.77,617.48 105.02,617.48 105.27,617.48 105.52,617.48 105.77,617.48 106.02,617.48 106.27,617.48 106.52,617.48 106.77,617.48 107.02,617.48 107.27,617.47 107.52,617.47 107.77,617.47 108.02,617.47 108.27,617.47 108.52,617.46 108.77,617.46 109.02,617.46 109.27,617.45 109.52,617.45 109.77,617.45 110.02,617.44 110.27,617.44 110.52,617.43 110.77,617.42 111.02,617.42 111.27,617.41 111.52,617.40 111.77,617.39 112.02,617.39 112.28,617.37 112.53,617.36 112.78,617.35 113.03,617.34 113.28,617.32 113.53,617.30 113.78,617.28 114.03,617.26 114.28,617.24 114.53,617.21 114.78,617.18 115.03,617.14 115.28,617.10 115.53,617.05 115.78,616.99 116.03,616.93 116.28,616.86 116.53,616.77 116.78,616.67 117.03,616.54 117.28,616.40 117.53,616.24 117.78,616.04 118.03,615.81 118.28,615.55 118.53,615.27 118.78,614.98 119.03,614.70 119.28,614.47 119.53,614.33 119.78,614.31 120.03,614.40 120.28,614.61 120.53,614.87 120.78,615.16 121.03,615.45 121.28,615.72 121.53,615.96 121.78,616.17 122.03,616.35 122.28,616.50 122.53,616.63 122.78,616.74 123.03,616.83 123.28,616.91 123.53,616.98 123.78,617.04 124.03,617.09 124.28,617.13 124.53,617.17 124.78,617.21 125.03,617.24 125.28,617.26 125.53,617.29 125.78,617.31 126.03,617.33 126.28,617.35 126.53,617.36 126.78,617.38 127.03,617.39 127.28,617.40 127.53,617.41 127.78,617.42 128.03,617.43 128.28,617.44 128.53,617.44 128.78,617.45 129.03,617.46 129.28,617.46 129.53,617.47 129.78,617.47 130.03,617.48 130.28,617.48 130.53,617.49 130.78,617.49 131.03,617.50 131.28,617.50 131.53,617.50 131.78,617.51 132.03,617.51 132.28,617.51 132.53,617.51 132.78,617.52 133.03,617.52 133.28,617.52 133.53,617.52 133.78,617.52 134.03,617.53 134.28,617.53 134.53,617.53 134.78,617.53 135.03,617.53 135.28,617.53 135.53,617.54 135.78,617.54 136.03,617.54 136.28,617.54 136.53,617.54 136.78,617.54 137.03,617.54 137.28,617.54 137.53,617.54 137.78,617.55 138.03,617.55 138.28,617.55 138.53,617.55 138.78,617.55 139.03,617.55 139.29,617.55 139.54,617.55 139.79,617.55 140.04,617.55 140.29,617.55 140.54,617.55 140.79,617.55 141.04,617.56 141.29,617.56 141.54,617.56 141.79,617.56 142.04,617.56 142.29,617.56 142.54,617.56 142.79,617.56 143.04,617.56 143.29,617.56 143.54,617.56 143.79,617.56 144.04,617.56 144.29,617.56 144.54,617.56 144.79,617.56 145.04,617.56 145.29,617.56 145.54,617.56 145.79,617.56 146.04,617.56 146.29,617.56 146.54,617.56 146.79,617.56 147.04,617.56 147.29,617.56 147.54,617.56 147.79,617.56 148.04,617.56 148.29,617.56 148.54,617.56 148.79,617.56 149.04,617.56 149.29,617.57 149.54,617.57 149.79,617.57 150.04,617.57 150.29,617.57 150.54,617.57 150.79,617.57 151.04,617.57 151.29,617.57 151.54,617.57 151.79,617.57 152.04,617.57 152.29,617.57 152.54,617.57 152.79,617.57 153.04,617.57 153.29,617.57 153.54,617.57 153.79,617.57 154.04,617.57 154.29,617.57 154.54,617.57 154.79,617.57 155.04,617.57 155.29,617.57 155.54,617.56 155.79,617.56 156.04,617.56 156.29,617.56 156.54,617.56 156.79,617.56 157.04,617.56 157.29,617.56 157.54,617.56 157.79,617.56 158.04,617.56 158.29,617.56 158.54,617.56 158.79,617.56 159.04,617.56 159.29,617.56 159.54,617.56 159.79,617.56 160.04,617.56 160.29,617.56 160.54,617.56 160.79,617.56 161.04,617.56 161.29,617.56 161.54,617.56 161.79,617.56 162.04,617.55 162.29,617.55 162.54,617.55 162.79,617.55 163.04,617.55 163.29,617.55 163.54,617.55 163.79,617.55 164.04,617.55 164.29,617.54 164.54,617.54 164.79,617.54 165.04,617.54 165.29,617.54 165.54,617.54 165.79,617.53 166.04,617.53 166.30,617.53 166.55,617.53 166.80,617.52 167.05,617.52 167.30,617.52 167.55,617.51 167.80,617.51 168.05,617.50 168.30,617.50 168.55,617.49 168.80,617.49 169.05,617.48 169.30,617.47 169.55,617.46 169.80,617.45 170.05,617.44 170.30,617.43 170.55,617.41 170.80,617.40 171.05,617.38 171.30,617.36 171.55,617.33 171.80,617.30 172.05,617.27 172.30,617.23 172.55,617.19 172.80,617.14 173.05,617.08 173.30,617.01 173.55,616.94 173.80,616.86 174.05,616.78 174.30,616.70 174.55,616.64 174.80,616.61 175.05,616.60 175.30,616.62 175.55,616.67 175.80,616.73 176.05,616.81 176.30,616.89 176.55,616.96 176.80,617.04 177.05,617.10 177.30,617.15 177.55,617.20 177.80,617.25 178.05,617.28 178.30,617.31 178.55,617.34 178.80,617.36 179.05,617.38 179.30,617.40 179.55,617.42 179.80,617.43 180.05,617.44 180.30,617.45 180.55,617.46 180.80,617.47 181.05,617.48 181.30,617.49 181.55,617.49 181.80,617.50 182.05,617.50 182.30,617.51 182.55,617.51 182.80,617.51 183.05,617.52 183.30,617.52 183.55,617.52 183.80,617.53 184.05,617.53 184.30,617.53 184.55,617.53 184.80,617.53 185.05,617.54 185.30,617.54 185.55,617.54 185.80,617.54 186.05,617.54 186.30,617.54 186.55,617.54 186.80,617.54 187.05,617.54 187.30,617.54 187.55,617.55 187.80,617.55 188.05,617.55 188.30,617.55 188.55,617.55 188.80,617.55 189.05,617.55 189.30,617.55 189.55,617.55 189.80,617.55 190.05,617.55 190.30,617.55 190.55,617.55 190.80,617.55 191.05,617.55 191.30,617.55 191.55,617.54 191.80,617.54 192.05,617.54 192.30,617.54 192.55,617.54 192.80,617.54 193.05,617.54 193.30,617.54 193.56,617.54 193.81,617.53 194.06,617.53 194.31,617.53 194.56,617.53 194.81,617.52 195.06,617.52 195.31,617.52 195.56,617.51 195.81,617.51 196.06,617.51 196.31,617.50 196.56,617.49 196.81,617.49 197.06,617.48 197.31,617.47 197.56,617.46 197.81,617.44 198.06,617.43 198.31,617.41 198.56,617.39 198.81,617.36 199.06,617.33 199.31,617.29 199.56,617.25 199.81,617.19 200.06,617.13 200.31,617.05 200.56,616.95 200.81,616.85 201.06,616.75 201.31,616.66 201.56,616.60 201.81,616.60 202.06,616.65 202.31,616.73 202.56,616.83 202.81,616.94 203.06,617.03 203.31,617.12 203.56,617.19 203.81,617.24 204.06,617.29 204.31,617.33 204.56,617.36 204.81,617.39 205.06,617.41 205.31,617.43 205.56,617.44 205.81,617.45 206.06,617.47 206.31,617.48 206.56,617.48 206.81,617.49 207.06,617.50 207.31,617.50 207.56,617.51 207.81,617.51 208.06,617.52 208.31,617.52 208.56,617.52 208.81,617.53 209.06,617.53 209.31,617.53 209.56,617.53 209.81,617.53 210.06,617.54 210.31,617.54 210.56,617.54 210.81,617.54 211.06,617.54 211.31,617.54 211.56,617.54 211.81,617.54 212.06,617.54 212.31,617.55 212.56,617.55 212.81,617.55 213.06,617.55 213.31,617.55 213.56,617.55 213.81,617.55 214.06,617.55 214.31,617.55 214.56,617.55 214.81,617.55 215.06,617.55 215.31,617.55 215.56,617.55 215.81,617.55 216.06,617.55 216.31,617.55 216.56,617.55 216.81,617.55 217.06,617.55 217.31,617.55 217.56,617.55 217.81,617.55 218.06,617.55 218.31,617.55 218.56,617.55 218.81,617.55 219.06,617.54 219.31,617.54 219.56,617.54 219.81,617.54 220.06,617.54 220.31,617.54 220.57,617.54 220.82,617.54 221.07,617.54 221.32,617.54 221.57,617.54 221.82,617.54 222.07,617.53 222.32,617.53 222.57,617.53 222.82,617.53 223.07,617.53 223.32,617.53 223.57,617.52 223.82,617.52 224.07,617.52 224.32,617.52 224.57,617.52 224.82,617.51 225.07,617.51 225.32,617.50 225.57,617.50 225.82,617.50 226.07,617.49 226.32,617.48 226.57,617.48 226.82,617.47 227.07,617.46 227.32,617.44 227.57,617.43 227.82,617.41 228.07,617.38 228.32,617.35 228.57,617.31 228.82,617.25 229.07,617.17 229.32,617.04 229.57,616.84 229.82,616.51 230.07,615.92 230.32,614.90 230.57,613.64 230.82,613.59 231.07,614.83 231.32,615.87 231.57,616.47 231.82,616.81 232.07,617.00 232.32,617.13 232.57,617.21 232.82,617.26 233.07,617.30 233.32,617.32 233.57,617.34 233.82,617.35 234.07,617.36 234.32,617.36 234.57,617.37 234.82,617.36 235.07,617.36 235.32,617.36 235.57,617.35 235.82,617.34 236.07,617.33 236.32,617.31 236.57,617.30 236.82,617.28 237.07,617.25 237.32,617.23 237.57,617.19 237.82,617.15 238.07,617.11 238.32,617.05 238.57,616.98 238.82,616.90 239.07,616.80 239.32,616.67 239.57,616.53 239.82,616.35 240.07,616.16 240.32,615.95 240.57,615.75 240.82,615.59 241.07,615.52 241.32,615.56 241.57,615.68 241.82,615.85 242.07,616.05 242.32,616.23 242.57,616.39 242.82,616.52 243.07,616.62 243.32,616.69 243.57,616.74 243.82,616.77 244.07,616.77 244.32,616.75 244.57,616.69 244.82,616.59 245.07,616.42 245.32,616.15 245.57,615.67 245.82,614.81 246.07,613.17 246.32,610.24 246.57,607.65 246.82,609.54 247.07,612.70 247.32,614.57 247.58,615.56 247.83,616.10 248.08,616.42 248.33,616.62 248.58,616.74 248.83,616.83 249.08,616.88 249.33,616.92 249.58,616.94 249.83,616.95 250.08,616.95 250.33,616.95 250.58,616.93 250.83,616.91 251.08,616.87 251.33,616.81 251.58,616.70 251.83,616.51 252.08,616.14 252.33,615.46 252.58,614.24 252.83,612.10 253.08,608.56 253.33,602.96 253.58,594.56 253.83,582.64 254.08,566.67 254.33,555.80 254.58,555.80 254.83,555.80 255.08,555.80 255.33,555.80 255.58,555.80 255.83,555.80 256.08,555.80 256.33,555.80 256.58,555.80 256.83,555.80 257.08,555.80 257.33,555.80 257.58,555.80 257.83,559.62 258.08,577.17 258.33,590.57 258.58,600.22 258.83,606.78 259.08,611.02 259.33,613.62 259.58,615.14 259.83,615.99 260.08,616.46 260.33,616.72 260.58,616.86 260.83,616.95 261.08,617.01 261.33,617.05 261.58,617.08 261.83,617.11 262.08,617.14 262.33,617.16 262.58,617.19 262.83,617.20 263.08,617.22 263.33,617.24 263.58,617.25 263.83,617.26 264.08,617.28 264.33,617.29 264.58,617.29 264.83,617.30 265.08,617.31 265.33,617.31 265.58,617.32 265.83,617.32 266.08,617.32 266.33,617.32 266.58,617.32 266.83,617.32 267.08,617.32 267.33,617.31 267.58,617.30 267.83,617.29 268.08,617.28 268.33,617.27 268.58,617.25 268.83,617.22 269.08,617.19 269.33,617.16 269.58,617.11 269.83,617.06 270.08,616.99 270.33,616.91 270.58,616.81 270.83,616.69 271.08,616.55 271.33,616.39 271.58,616.24 271.83,616.11 272.08,616.04 272.33,616.05 272.58,616.13 272.83,616.26 273.08,616.42 273.33,616.58 273.58,616.72 273.83,616.84 274.08,616.95 274.33,617.03 274.59,617.11 274.84,617.16 275.09,617.21 275.34,617.25 275.59,617.29 275.84,617.31 276.09,617.34 276.34,617.36 276.59,617.38 276.84,617.39 277.09,617.41 277.34,617.42 277.59,617.43 277.84,617.44 278.09,617.45 278.34,617.46 278.59,617.46 278.84,617.47 279.09,617.47 279.34,617.48 279.59,617.48 279.84,617.49 280.09,617.49 280.34,617.50 280.59,617.50 280.84,617.50 281.09,617.50 281.34,617.51 281.59,617.51 281.84,617.51 282.09,617.51 282.34,617.52 282.59,617.52 282.84,617.52 283.09,617.52 283.34,617.52 283.59,617.53 283.84,617.53 284.09,617.53 284.34,617.53 284.59,617.53 284.84,617.53 285.09,617.53 285.34,617.53 285.59,617.54 285.84,617.54 286.09,617.54 286.34,617.54 286.59,617.54 286.84,617.54 287.09,617.54 287.34,617.54 287.59,617.54 287.84,617.54 288.09,617.54 288.34,617.54 288.59,617.54 288.84,617.54 289.09,617.55 289.34,617.55 289.59,617.55 289.84,617.55 290.09,617.55 290.34,617.55 290.59,617.55 290.84,617.55 291.09,617.55 291.34,617.55 291.59,617.55 291.84,617.55 292.09,617.55 292.34,617.55 292.59,617.55 292.84,617.55 293.09,617.55 293.34,617.55 293.59,617.55 293.84,617.55 294.09,617.55 294.34,617.55 294.59,617.55 294.84,617.55 295.09,617.55 295.34,617.55 295.59,617.55 295.84,617.55 296.09,617.55 296.34,617.55 296.59,617.55 296.84,617.55 297.09,617.56 297.34,617.56 297.59,617.56 297.84,617.56 298.09,617.56 298.34,617.56 298.59,617.56 298.84,617.56 299.09,617.56 299.34,617.56 299.59,617.56 299.84,617.56 300.09,617.56 300.34,617.56 300.59,617.56 300.84,617.56 301.09,617.56 301.34,617.56 301.60,617.56 301.85,617.56 302.10,617.56 302.35,617.56 302.60,617.56 302.85,617.56 303.10,617.56 303.35,617.56 303.60,617.56 303.85,617.56 304.10,617.56 304.35,617.56 304.60,617.56 304.85,617.56 305.10,617.56 305.35,617.56 305.60,617.56 305.85,617.56 306.10,617.56 306.35,617.56 306.60,617.56 306.85,617.56 307.10,617.56 307.35,617.56 307.60,617.56 307.85,617.56 308.10,617.56 308.35,617.56 308.60,617.56 308.85,617.56 309.10,617.56 309.35,617.56 309.60,617.56 309.85,617.56 310.10,617.56 310.35,617.56 310.60,617.56 310.85,617.56 311.10,617.56 311.35,617.56 311.60,617.56 311.85,617.56 312.10,617.56 312.35,617.56 312.60,617.56 312.85,617.56 313.10,617.56 313.35,617.56 313.60,617.55 313.85,617.55 314.10,617.55 314.35,617.55 314.60,617.55 314.85,617.55 315.10,617.55 315.35,617.55 315.60,617.55 315.85,617.55 316.10,617.55 316.35,617.55 316.60,617.55 316.85,617.55 317.10,617.55 317.35,617.55 317.60,617.55 317.85,617.55 318.10,617.55 318.35,617.55 318.60,617.55 318.85,617.55 319.10,617.55 319.35,617.55 319.60,617.55 319.85,617.55 320.10,617.55 320.35,617.55 320.60,617.55 320.85,617.55 321.10,617.55 321.35,617.55 321.60,617.55 321.85,617.55 322.10,617.55 322.35,617.55 322.60,617.55 322.85,617.55 323.10,617.55 323.35,617.55 323.60,617.55 323.85,617.55 324.10,617.55 324.35,617.55 324.60,617.55 324.85,617.55 325.10,617.55 325.35,617.55 325.60,617.54 325.85,617.54 326.10,617.54 326.35,617.54 326.60,617.54 326.85,617.54 327.10,617.54 327.35,617.54 327.60,617.54 327.85,617.54 328.10,617.54 328.35,617.54 328.60,617.54 328.86,617.54 329.11,617.54 329.36,617.54 329.61,617.54 329.86,617.54 330.11,617.54 330.36,617.54 330.61,617.54 330.86,617.54 331.11,617.54 331.36,617.54 331.61,617.53 331.86,617.53 332.11,617.53 332.36,617.53 332.61,617.53 332.86,617.53 333.11,617.53 333.36,617.53 333.61,617.53 333.86,617.53 334.11,617.53 334.36,617.53 334.61,617.53 334.86,617.53 335.11,617.53 335.36,617.53 335.61,617.52 335.86,617.52 336.11,617.52 336.36,617.52 336.61,617.52 336.86,617.52 337.11,617.52 337.36,617.52 337.61,617.52 337.86,617.52 338.11,617.52 338.36,617.52 338.61,617.51 338.86,617.51 339.11,617.51 339.36,617.51 339.61,617.51 339.86,617.51 340.11,617.51 340.36,617.51 340.61,617.51 340.86,617.51 341.11,617.50 341.36,617.50 341.61,617.50 341.86,617.50 342.11,617.50 342.36,617.50 342.61,617.50 342.86,617.49 343.11,617.49 343.36,617.49 343.61,617.49 343.86,617.49 344.11,617.49 344.36,617.48 344.61,617.48 344.86,617.48 345.11,617.48 345.36,617.48 345.61,617.47 345.86,617.47 346.11,617.47 346.36,617.47 346.61,617.46 346.86,617.46 347.11,617.46 347.36,617.45 347.61,617.45 347.86,617.45 348.11,617.44 348.36,617.44 348.61,617.44 348.86,617.43 349.11,617.43 349.36,617.42 349.61,617.42 349.86,617.42 350.11,617.41 350.36,617.41 350.61,617.40 350.86,617.39 351.11,617.39 351.36,617.38 351.61,617.37 351.86,617.37 352.11,617.36 352.36,617.35 352.61,617.34 352.86,617.33 353.11,617.32 353.36,617.31 353.61,617.29 353.86,617.28 354.11,617.27 354.36,617.25 354.61,617.23 354.86,617.21 355.11,617.19 355.36,617.16 355.61,617.14 355.87,617.11 356.12,617.07 356.37,617.03 356.62,616.98 356.87,616.93 357.12,616.87 357.37,616.79 357.62,616.70 357.87,616.59 358.12,616.45 358.37,616.27 358.62,616.04 358.87,615.71 359.12,615.22 359.37,614.47 359.62,613.21 359.87,610.92 360.12,606.93 360.37,603.12 360.62,604.91 360.87,608.33 361.12,609.86 361.37,609.81 361.62,608.71 361.87,607.02 362.12,605.73 362.37,605.89 362.62,607.21 362.87,608.49 363.12,608.91 363.37,607.98 363.62,604.91 363.87,598.96 364.12,595.03 364.37,599.97 364.62,605.54 364.87,608.06 365.12,608.14 365.37,605.77 365.62,600.27 365.87,595.05 366.12,599.15 366.37,606.07 366.62,610.24 366.87,612.45 367.12,613.66 367.37,614.37 367.62,614.80 367.87,615.06 368.12,615.21 368.37,615.28 368.62,615.29 368.87,615.26 369.12,615.21 369.37,615.16 369.62,615.11 369.87,615.09 370.12,615.11 370.37,615.17 370.62,615.26 370.87,615.36 371.12,615.47 371.37,615.57 371.62,615.65 371.87,615.71 372.12,615.74 372.37,615.73 372.62,615.68 372.87,615.59 373.12,615.43 373.37,615.17 373.62,614.78 373.87,614.18 374.12,613.18 374.37,611.46 374.62,608.28 374.87,602.46 375.12,595.71 375.37,597.28 375.62,603.54 375.87,606.99 376.12,607.51 376.37,605.38 376.62,600.12 376.87,595.08 377.12,598.50 377.37,604.13 377.62,606.86 377.87,607.36 378.12,606.61 378.37,605.71 378.62,605.83 378.87,606.99 379.12,608.01 379.37,607.80 379.62,605.67 379.87,603.56 380.12,606.30 380.37,610.32 380.62,612.78 380.87,614.14 381.12,614.96 381.37,615.48 381.62,615.83 381.87,616.09 382.12,616.28 382.37,616.43 382.62,616.54 382.88,616.64 383.13,616.72 383.38,616.78 383.63,616.83 383.88,616.88 384.13,616.92 384.38,616.95 384.63,616.98 384.88,617.01 385.13,617.03 385.38,617.05 385.63,617.06 385.88,617.08 386.13,617.09 386.38,617.10 386.63,617.11 386.88,617.11 387.13,617.12 387.38,617.12 387.63,617.13 387.88,617.13 388.13,617.13 388.38,617.13 388.63,617.13 388.88,617.13 389.13,617.12 389.38,617.12 389.63,617.12 389.88,617.11 390.13,617.10 390.38,617.09 390.63,617.08 390.88,617.07 391.13,617.06 391.38,617.04 391.63,617.02 391.88,617.01 392.13,616.98 392.38,616.96 392.63,616.93 392.88,616.90 393.13,616.87 393.38,616.83 393.63,616.79 393.88,616.74 394.13,616.68 394.38,616.62 394.63,616.54 394.88,616.46 395.13,616.36 395.38,616.24 395.63,616.10 395.88,615.93 396.13,615.74 396.38,615.50 396.63,615.20 396.88,614.84 397.13,614.39 397.38,613.83 397.63,613.13 397.88,612.26 398.13,611.18 398.38,609.91 398.63,608.53 398.88,607.25 399.13,606.39 399.38,606.24 399.63,606.87 399.88,608.04 400.13,609.41 400.38,610.72 400.63,611.86 400.88,612.80 401.13,613.55 401.38,614.15 401.63,614.63 401.88,615.01 402.13,615.32 402.38,615.57 402.63,615.77 402.88,615.94 403.13,616.08 403.38,616.19 403.63,616.29 403.88,616.37 404.13,616.44 404.38,616.50 404.63,616.55 404.88,616.59 405.13,616.63 405.38,616.66 405.63,616.68 405.88,616.70 406.13,616.71 406.38,616.73 406.63,616.73 406.88,616.74 407.13,616.74 407.38,616.74 407.63,616.74 407.88,616.73 408.13,616.73 408.38,616.72 408.63,616.70 408.88,616.69 409.13,616.67 409.38,616.65 409.63,616.63 409.89,616.60 410.14,616.57 410.39,616.54 410.64,616.51 410.89,616.47 411.14,616.43 411.39,616.39 411.64,616.34 411.89,616.29 412.14,616.24 412.39,616.18 412.64,616.12 412.89,616.06 413.14,616.00 413.39,615.94 413.64,615.88 413.89,615.82 414.14,615.77 414.39,615.71 414.64,615.66 414.89,615.62 415.14,615.58 415.39,615.54 415.64,615.51 415.89,615.47 416.14,615.44 416.39,615.41 416.64,615.37 416.89,615.34 417.14,615.29 417.39,615.24 417.64,615.17 417.89,615.10 418.14,615.01 418.39,614.91 418.64,614.80 418.89,614.67 419.14,614.52 419.39,614.36 419.64,614.18 419.89,613.99 420.14,613.79 420.39,613.58 420.64,613.37 420.89,613.16 421.14,612.98 421.39,612.82 421.64,612.70 421.89,612.62 422.14,612.59 422.39,612.60 422.64,612.65 422.89,612.74 423.14,612.84 423.39,612.95 423.64,613.06 423.89,613.15 424.14,613.22 424.39,613.25 424.64,613.22 424.89,613.14 425.14,612.96 425.39,612.68 425.64,612.25 425.89,611.64 426.14,610.83 426.39,609.88 426.64,609.01 426.89,608.60 427.14,608.89 427.39,609.67 427.64,610.56 427.89,611.31 428.14,611.86 428.39,612.21 428.64,612.42 428.89,612.51 429.14,612.51 429.39,612.43 429.64,612.30 429.89,612.12 430.14,611.91 430.39,611.67 430.64,611.42 430.89,611.18 431.14,610.97 431.39,610.79 431.64,610.66 431.89,610.60 432.14,610.62 432.39,610.70 432.64,610.85 432.89,611.06 433.14,611.31 433.39,611.58 433.64,611.85 433.89,612.13 434.14,612.39 434.39,612.63 434.64,612.84 434.89,613.02 435.14,613.16 435.39,613.26 435.64,613.32 435.89,613.33 436.14,613.28 436.39,613.17 436.64,612.97 436.90,612.66 437.15,612.22 437.40,611.58 437.65,610.71 437.90,609.56 438.15,608.18 438.40,606.84 438.65,606.05 438.90,606.20 439.15,607.12 439.40,608.27 439.65,609.25 439.90,609.94 440.15,610.34 440.40,610.50 440.65,610.48 440.90,610.33 441.15,610.11 441.40,609.87 441.65,609.68 441.90,609.60 442.15,609.64 442.40,609.82 442.65,610.10 442.90,610.44 443.15,610.80 443.40,611.12 443.65,611.38 443.90,611.55 444.15,611.64 444.40,611.62 444.65,611.48 444.90,611.21 445.15,610.78 445.40,610.15 445.65,609.27 445.90,608.05 446.15,606.38 446.40,604.11 446.65,601.00 446.90,596.82 447.15,591.45 447.40,585.29 447.65,579.85 447.90,577.60 448.15,579.93 448.40,585.46 448.65,591.74 448.90,597.23 449.15,601.54 449.40,604.79 449.65,607.22 449.90,609.04 450.15,610.43 450.40,611.51 450.65,612.35 450.90,613.02 451.15,613.57 451.40,614.01 451.65,614.38 451.90,614.69 452.15,614.95 452.40,615.17 452.65,615.36 452.90,615.53 453.15,615.67 453.40,615.80 453.65,615.91 453.90,616.01 454.15,616.09 454.40,616.17 454.65,616.24 454.90,616.30 455.15,616.36 455.40,616.41 455.65,616.45 455.90,616.49 456.15,616.53 456.40,616.56 456.65,616.59 456.90,616.62 457.15,616.64 457.40,616.67 457.65,616.69 457.90,616.70 458.15,616.72 458.40,616.73 458.65,616.74 458.90,616.75 459.15,616.76 459.40,616.77 459.65,616.77 459.90,616.78 460.15,616.78 460.40,616.78 460.65,616.78 460.90,616.77 461.15,616.77 461.40,616.76 461.65,616.75 461.90,616.74 462.15,616.73 462.40,616.71 462.65,616.70 462.90,616.68 463.15,616.65 463.40,616.62 463.65,616.59 463.90,616.56 464.16,616.51 464.41,616.47 464.66,616.41 464.91,616.35 465.16,616.28 465.41,616.20 465.66,616.11 465.91,616.00 466.16,615.88 466.41,615.74 466.66,615.57 466.91,615.37 467.16,615.14 467.41,614.87 467.66,614.55 467.91,614.17 468.16,613.74 468.41,613.25 468.66,612.72 468.91,612.17 469.16,611.64 469.41,611.22 469.66,610.96 469.91,610.90 470.16,611.07 470.41,611.40 470.66,611.83 470.91,612.30 471.16,612.74 471.41,613.14 471.66,613.46 471.91,613.70 472.16,613.86 472.41,613.93 472.66,613.92 472.91,613.80 473.16,613.56 473.41,613.16 473.66,612.57 473.91,611.73 474.16,610.63 474.41,609.35 474.66,608.23 474.91,607.80 475.16,608.33 475.41,609.51 475.66,610.82 475.91,611.95 476.16,612.82 476.41,613.46 476.66,613.92 476.91,614.24 477.16,614.46 477.41,614.60 477.66,614.69 477.91,614.74 478.16,614.76 478.41,614.75 478.66,614.72 478.91,614.69 479.16,614.65 479.41,614.62 479.66,614.60 479.91,614.60 480.16,614.61 480.41,614.64 480.66,614.69 480.91,614.76 481.16,614.83 481.41,614.91 481.66,614.98 481.91,615.05 482.16,615.12 482.41,615.17 482.66,615.21 482.91,615.24 483.16,615.26 483.41,615.26 483.66,615.25 483.91,615.22 484.16,615.18 484.41,615.12 484.66,615.04 484.91,614.95 485.16,614.84 485.41,614.71 485.66,614.56 485.91,614.39 486.16,614.21 486.41,614.01 486.66,613.80 486.91,613.58 487.16,613.36 487.41,613.15 487.66,612.96 487.91,612.80 488.16,612.68 488.41,612.61 488.66,612.60 488.91,612.65 489.16,612.76 489.41,612.92 489.66,613.11 489.91,613.32 490.16,613.56 490.41,613.79 490.66,614.02 490.91,614.25 491.17,614.46 491.42,614.65 491.67,614.83 491.92,614.99 492.17,615.13 492.42,615.26 492.67,615.38 492.92,615.48 493.17,615.56 493.42,615.64 493.67,615.70 493.92,615.75 494.17,615.79 494.42,615.82 494.67,615.84 494.92,615.84 495.17,615.84 495.42,615.83 495.67,615.80 495.92,615.76 496.17,615.71 496.42,615.64 496.67,615.55 496.92,615.44 497.17,615.30 497.42,615.14 497.67,614.93 497.92,614.69 498.17,614.38 498.42,614.01 498.67,613.56 498.92,613.00 499.17,612.32 499.42,611.48 499.67,610.47 499.92,609.28 500.17,607.94 500.42,606.53 500.67,605.16 500.92,603.95 501.17,602.89 501.42,601.75 501.67,600.14 501.92,597.71 502.17,594.27 502.42,589.87 502.67,584.78 502.92,579.40 503.17,574.14 503.42,569.23 503.67,564.69 503.92,560.28 504.17,555.80 504.42,555.80 504.67,555.80 504.92,555.80 505.17,555.80 505.42,555.80 505.67,555.80 505.92,555.80 506.17,555.80 506.42,555.80 506.67,555.80 506.92,555.80 507.17,555.80 507.42,555.80 507.67,555.80 507.92,555.80 508.17,555.80 508.42,555.80 508.67,562.43 508.92,572.58 509.17,581.53 509.42,589.12 509.67,595.31 509.92,600.14 510.17,603.70 510.42,606.15 510.67,607.69 510.92,608.54 511.17,609.02 511.42,609.44 511.67,610.04 511.92,610.87 512.17,611.81 512.42,612.73 512.67,613.53 512.92,614.19 513.17,614.72 513.42,615.13 513.67,615.46 513.92,615.72 514.17,615.93 514.42,616.10 514.67,616.24 514.92,616.36 515.17,616.45 515.42,616.53 515.67,616.60 515.92,616.66 516.17,616.71 516.42,616.75 516.67,616.79 516.92,616.82 517.17,616.85 517.42,616.87 517.67,616.89 517.92,616.91 518.18,616.92 518.43,616.94 518.68,616.95 518.93,616.96 519.18,616.96 519.43,616.97 519.68,616.98 519.93,616.98 520.18,616.98 520.43,616.98 520.68,616.98 520.93,616.98 521.18,616.98 521.43,616.97 521.68,616.97 521.93,616.96 522.18,616.95 522.43,616.94 522.68,616.93 522.93,616.92 523.18,616.91 523.43,616.89 523.68,616.88 523.93,616.86 524.18,616.84 524.43,616.82 524.68,616.79 524.93,616.76 525.18,616.73 525.43,616.70 525.68,616.66 525.93,616.62 526.18,616.57 526.43,616.52 526.68,616.45 526.93,616.39 527.18,616.31 527.43,616.22 527.68,616.12 527.93,616.00 528.18,615.86 528.43,615.70 528.68,615.51 528.93,615.29 529.18,615.01 529.43,614.68 529.68,614.27 529.93,613.75 530.18,613.10 530.43,612.25 530.68,611.13 530.93,609.62 531.18,607.56 531.43,604.71 531.68,600.79 531.93,595.62 532.18,589.68 532.43,584.85 532.68,583.96 532.93,587.65 533.18,593.48 533.43,599.01 533.68,603.35 533.93,606.53 534.18,608.82 534.43,610.47 534.68,611.69 534.93,612.60 535.18,613.30 535.43,613.83 535.68,614.25 535.93,614.58 536.18,614.84 536.43,615.06 536.68,615.23 536.93,615.36 537.18,615.47 537.43,615.56 537.68,615.63 537.93,615.68 538.18,615.72 538.43,615.75 538.68,615.76 538.93,615.76 539.18,615.76 539.43,615.74 539.68,615.72 539.93,615.68 540.18,615.63 540.43,615.58 540.68,615.51 540.93,615.43 541.18,615.34 541.43,615.23 541.68,615.10 541.93,614.95 542.18,614.78 542.43,614.58 542.68,614.35 542.93,614.07 543.18,613.74 543.43,613.35 543.68,612.86 543.93,612.26 544.18,611.51 544.43,610.54 544.68,609.30 544.93,607.69 545.19,605.64 545.44,603.21 545.69,600.72 545.94,598.89 546.19,598.24 546.44,598.49 546.69,598.77 546.94,598.35 547.19,596.83 547.44,593.96 547.69,589.73 547.94,584.75 548.19,580.82 548.44,580.01 548.69,582.15 548.94,585.01 549.19,586.83 549.44,587.01 549.69,585.56 549.94,582.68 550.19,578.80 550.44,574.67 550.69,571.48 550.94,570.40 551.19,571.81 551.44,575.00 551.69,578.68 551.94,581.77 552.19,583.58 552.44,583.77 552.69,582.26 552.94,579.33 553.19,576.13 553.44,574.80 553.69,577.06 553.94,582.34 554.19,588.57 554.44,594.21 554.69,598.74 554.94,602.22 555.19,604.87 555.44,606.90 555.69,608.48 555.94,609.72 556.19,610.72 556.44,611.53 556.69,612.20 556.94,612.76 557.19,613.23 557.44,613.63 557.69,613.98 557.94,614.28 558.19,614.54 558.44,614.77 558.69,614.98 558.94,615.16 559.19,615.32 559.44,615.46 559.69,615.60 559.94,615.71 560.19,615.82 560.44,615.92 560.69,616.01 560.94,616.09 561.19,616.17 561.44,616.24 561.69,616.30 561.94,616.36 562.19,616.42 562.44,616.47 562.69,616.52 562.94,616.57 563.19,616.61 563.44,616.65 563.69,616.68 563.94,616.72 564.19,616.75 564.44,616.78 564.69,616.81 564.94,616.84 565.19,616.86 565.44,616.89 565.69,616.91 565.94,616.93 566.19,616.96 566.44,616.98 566.69,616.99 566.94,617.01 567.19,617.03 567.44,617.05 567.69,617.06 567.94,617.08 568.19,617.09 568.44,617.10 568.69,617.12 568.94,617.13 569.19,617.14 569.44,617.15 569.69,617.17 569.94,617.18 570.19,617.19 570.44,617.20 570.69,617.21 570.94,617.21 571.19,617.22 571.44,617.23 571.69,617.24 571.94,617.25 572.20,617.26 572.45,617.26 572.70,617.27 572.95,617.28 573.20,617.28 573.45,617.29 573.70,617.30 573.95,617.30 574.20,617.31 574.45,617.31 574.70,617.32 574.95,617.32 575.20,617.33 575.45,617.33 575.70,617.34 575.95,617.34 576.20,617.35 576.45,617.35 576.70,617.36 576.95,617.36 577.20,617.37 577.45,617.37 577.70,617.37 577.95,617.38 578.20,617.38 578.45,617.38 578.70,617.39 578.95,617.39 579.20,617.39 579.45,617.40 579.70,617.40 579.95,617.40 580.20,617.41 580.45,617.41 580.70,617.41 580.95,617.42 581.20,617.42 581.45,617.42 581.70,617.42 581.95,617.43 582.20,617.43 582.45,617.43 582.70,617.43 582.95,617.43 583.20,617.44 583.45,617.44 583.70,617.44 583.95,617.44 584.20,617.45 584.45,617.45 584.70,617.45 584.95,617.45 585.20,617.45 585.45,617.46 585.70,617.46" fill="none" stroke="#c98282" stroke-width="1.75" stroke-linejoin="round"/>
<polygon points="76.90,614.00 77.30,603.00 78.40,600.00 78.80,589.00 79.80,587.20 80.60,589.00 81.00,600.00 81.70,603.00 82.10,614.00" fill="#b04848" opacity="0.85"/>
<polygon points="360.20,614.50 360.40,602.60 362.60,602.60 362.90,594.80 366.40,594.80 366.80,614.50" fill="#b04848" opacity="0.8"/>
<polygon points="374.20,614.50 374.40,594.80 377.40,594.80 377.60,603.00 380.40,603.00 380.70,614.50" fill="#b04848" opacity="0.8"/>
<polyline points="45.10,1169.18 45.35,1169.18 45.60,1169.18 45.85,1169.18 46.10,1169.18 46.35,1169.18 46.60,1169.18 46.85,1169.18 47.10,1169.18 47.35,1169.18 47.60,1169.18 47.85,1169.18 48.10,1169.18 48.35,1169.18 48.60,1169.18 48.85,1169.18 49.10,1169.18 49.35,1169.18 49.60,1169.18 49.85,1169.18 50.10,1169.18 50.35,1169.18 50.60,1169.18 50.85,1169.18 51.10,1169.18 51.35,1169.18 51.60,1169.18 51.85,1169.18 52.10,1169.17 52.35,1169.17 52.60,1169.17 52.85,1169.17 53.10,1169.17 53.35,1169.17 53.60,1169.17 53.85,1169.17 54.10,1169.17 54.35,1169.17 54.60,1169.17 54.85,1169.17 55.10,1169.17 55.35,1169.17 55.60,1169.17 55.85,1169.17 56.10,1169.17 56.35,1169.16 56.60,1169.16 56.85,1169.16 57.10,1169.16 57.35,1169.16 57.60,1169.16 57.85,1169.16 58.10,1169.16 58.35,1169.16 58.60,1169.16 58.85,1169.15 59.10,1169.15 59.35,1169.15 59.60,1169.15 59.85,1169.15 60.10,1169.15 60.35,1169.15 60.60,1169.15 60.85,1169.14 61.10,1169.14 61.35,1169.14 61.60,1169.14 61.85,1169.14 62.10,1169.13 62.35,1169.13 62.60,1169.13 62.85,1169.13 63.10,1169.13 63.35,1169.12 63.60,1169.12 63.85,1169.12 64.10,1169.11 64.35,1169.11 64.60,1169.11 64.85,1169.10 65.10,1169.10 65.35,1169.10 65.60,1169.09 65.85,1169.09 66.10,1169.08 66.35,1169.08 66.60,1169.07 66.85,1169.07 67.10,1169.06 67.35,1169.05 67.60,1169.04 67.85,1169.04 68.10,1169.03 68.35,1169.02 68.60,1169.01 68.85,1169.00 69.10,1168.98 69.35,1168.97 69.60,1168.96 69.85,1168.94 70.10,1168.92 70.35,1168.90 70.60,1168.88 70.85,1168.85 71.10,1168.82 71.35,1168.79 71.60,1168.75 71.85,1168.71 72.10,1168.66 72.35,1168.61 72.60,1168.54 72.85,1168.46 73.10,1168.36 73.35,1168.25 73.60,1168.11 73.85,1167.93 74.10,1167.70 74.35,1167.40 74.60,1167.00 74.85,1166.48 75.10,1165.82 75.35,1165.10 75.60,1164.44 75.85,1163.79 76.10,1162.94 76.35,1161.70 76.60,1160.08 76.85,1158.39 77.10,1157.30 77.35,1157.45 77.60,1158.73 77.85,1160.45 78.10,1161.99 78.35,1163.13 78.60,1163.86 78.85,1164.38 79.10,1164.95 79.35,1165.65 79.60,1166.33 79.85,1166.88 80.10,1167.30 80.35,1167.61 80.60,1167.84 80.85,1168.02 81.10,1168.17 81.35,1168.28 81.60,1168.36 81.85,1168.44 82.10,1168.49 82.35,1168.54 82.60,1168.57 82.85,1168.60 83.10,1168.62 83.35,1168.63 83.60,1168.63 83.85,1168.63 84.10,1168.62 84.35,1168.60 84.60,1168.58 84.85,1168.54 85.10,1168.50 85.35,1168.46 85.60,1168.41 85.85,1168.36 86.10,1168.32 86.35,1168.30 86.60,1168.30 86.85,1168.32 87.10,1168.36 87.35,1168.41 87.60,1168.48 87.85,1168.54 88.10,1168.61 88.35,1168.67 88.60,1168.72 88.85,1168.77 89.10,1168.81 89.35,1168.85 89.60,1168.88 89.85,1168.91 90.10,1168.93 90.35,1168.96 90.60,1168.97 90.85,1168.99 91.10,1169.01 91.35,1169.02 91.60,1169.03 91.85,1169.04 92.10,1169.05 92.35,1169.06 92.60,1169.07 92.85,1169.07 93.10,1169.08 93.35,1169.09 93.60,1169.09 93.85,1169.10 94.10,1169.10 94.35,1169.11 94.60,1169.11 94.85,1169.11 95.10,1169.12 95.35,1169.12 95.60,1169.12 95.85,1169.13 96.10,1169.13 96.35,1169.13 96.60,1169.13 96.85,1169.14 97.10,1169.14 97.35,1169.14 97.60,1169.14 97.85,1169.14 98.10,1169.15 98.35,1169.15 98.60,1169.15 98.85,1169.15 99.10,1169.15 99.35,1169.15 99.61,1169.15 99.86,1169.15 100.11,1169.16 100.36,1169.16 100.61,1169.16 100.86,1169.16 101.11,1169.16 101.36,1169.16 101.61,1169.16 101.86,1169.16 102.11,1169.16 102.36,1169.16 102.61,1169.17 102.86,1169.17 103.11,1169.17 103.36,1169.17 103.61,1169.17 103.86,1169.17 104.11,1169.17 104.36,1169.17 104.61,1169.17 104.86,1169.17 105.11,1169.17 105.36,1169.17 105.61,1169.17 105.86,1169.17 106.11,1169.17 106.36,1169.17 106.61,1169.17 106.86,1169.18 107.11,1169.18 107.36,1169.18 107.61,1169.18 107.86,1169.18 108.11,1169.18 108.36,1169.18 108.61,1169.18 108.86,1169.18 109.11,1169.18 109.36,1169.18 109.61,1169.18 109.86,1169.18 110.11,1169.18 110.36,1169.18 110.61,1169.18 110.86,1169.18 111.11,1169.18 111.36,1169.18 111.61,1169.18 111.86,1169.18 112.11,1169.18 112.36,1169.18 112.61,1169.18 112.86,1169.18 113.11,1169.18 113.36,1169.18 113.61,1169.18 113.86,1169.18 114.11,1169.18 114.36,1169.18 114.61,1169.18 114.86,1169.18 115.11,1169.18 115.36,1169.18 115.61,1169.18 115.86,1169.18 116.11,1169.19 116.36,1169.19 116.61,1169.19 116.86,1169.19 117.11,1169.19 117.36,1169.19 117.61,1169.19 117.86,1169.19 118.11,1169.19 118.36,1169.19 118.61,1169.19 118.86,1169.19 119.11,1169.19 119.36,1169.19 119.61,1169.19 119.86,1169.19 120.11,1169.19 120.36,1169.19 120.61,1169.19 120.86,1169.19 121.11,1169.19 121.36,1169.19 121.61,1169.19 121.86,1169.19 122.11,1169.19 122.36,1169.19 122.61,1169.19 122.86,1169.19 123.11,1169.19 123.36,1169.19 123.61,1169.19 123.86,1169.19 124.11,1169.19 124.36,1169.19 124.61,1169.19 124.86,1169.19 125.11,1169.19 125.36,1169.19 125.61,1169.19 125.86,1169.19 126.11,1169.19 126.36,1169.19 126.61,1169.19 126.86,1169.19 127.11,1169.19 127.36,1169.19 127.61,1169.19 127.86,1169.19 128.11,1169.19 128.36,1169.19 128.61,1169.19 128.86,1169.19 129.11,1169.19 129.36,1169.19 129.61,1169.19 129.86,1169.19 130.11,1169.19 130.36,1169.19 130.61,1169.19 130.86,1169.19 131.11,1169.19 131.36,1169.19 131.61,1169.19 131.86,1169.19 132.11,1169.19 132.36,1169.19 132.61,1169.19 132.86,1169.19 133.11,1169.19 133.36,1169.19 133.61,1169.19 133.86,1169.19 134.11,1169.19 134.36,1169.19 134.61,1169.19 134.86,1169.19 135.11,1169.19 135.36,1169.19 135.61,1169.19 135.86,1169.19 136.11,1169.19 136.36,1169.19 136.61,1169.19 136.86,1169.19 137.11,1169.19 137.36,1169.19 137.61,1169.19 137.86,1169.19 138.11,1169.19 138.36,1169.19 138.61,1169.19 138.86,1169.19 139.11,1169.19 139.36,1169.19 139.61,1169.19 139.86,1169.19 140.11,1169.19 140.36,1169.19 140.61,1169.19 140.86,1169.19 141.11,1169.19 141.36,1169.19 141.61,1169.19 141.86,1169.19 142.11,1169.19 142.36,1169.19 142.61,1169.19 142.86,1169.19 143.11,1169.19 143.36,1169.19 143.61,1169.19 143.86,1169.19 144.11,1169.19 144.36,1169.19 144.61,1169.19 144.86,1169.19 145.11,1169.19 145.36,1169.19 145.61,1169.19 145.86,1169.19 146.11,1169.19 146.36,1169.19 146.61,1169.19 146.86,1169.19 147.11,1169.19 147.36,1169.19 147.61,1169.19 147.86,1169.19 148.11,1169.19 148.36,1169.19 148.61,1169.19 148.86,1169.19 149.11,1169.19 149.36,1169.19 149.61,1169.19 149.86,1169.19 150.11,1169.19 150.36,1169.19 150.61,1169.19 150.86,1169.19 151.11,1169.19 151.36,1169.19 151.61,1169.19 151.86,1169.19 152.11,1169.19 152.36,1169.19 152.61,1169.19 152.86,1169.19 153.11,1169.19 153.36,1169.19 153.61,1169.19 153.86,1169.19 154.11,1169.19 154.36,1169.19 154.61,1169.19 154.86,1169.19 155.11,1169.19 155.36,1169.19 155.61,1169.19 155.86,1169.19 156.11,1169.19 156.36,1169.19 156.61,1169.19 156.86,1169.19 157.11,1169.19 157.36,1169.19 157.61,1169.19 157.86,1169.19 158.11,1169.19 158.36,1169.19 158.61,1169.19 158.86,1169.19 159.11,1169.19 159.36,1169.19 159.61,1169.19 159.86,1169.19 160.11,1169.19 160.36,1169.19 160.61,1169.19 160.86,1169.19 161.11,1169.19 161.36,1169.19 161.61,1169.19 161.86,1169.19 162.11,1169.19 162.36,1169.19 162.61,1169.19 162.86,1169.19 163.11,1169.19 163.36,1169.19 163.61,1169.19 163.86,1169.19 164.11,1169.19 164.36,1169.19 164.61,1169.19 164.86,1169.19 165.11,1169.19 165.36,1169.19 165.61,1169.19 165.86,1169.19 166.11,1169.19 166.36,1169.19 166.61,1169.19 166.86,1169.19 167.11,1169.19 167.36,1169.19 167.61,1169.19 167.86,1169.19 168.11,1169.19 168.36,1169.19 168.61,1169.19 168.86,1169.19 169.11,1169.19 169.36,1169.19 169.61,1169.19 169.86,1169.19 170.11,1169.19 170.36,1169.19 170.61,1169.19 170.86,1169.19 171.11,1169.19 171.36,1169.19 171.61,1169.19 171.86,1169.19 172.11,1169.19 172.36,1169.19 172.61,1169.19 172.86,1169.19 173.11,1169.19 173.36,1169.19 173.61,1169.19 173.86,1169.19 174.11,1169.19 174.36,1169.19 174.61,1169.19 174.86,1169.19 175.11,1169.19 175.36,1169.19 175.61,1169.19 175.86,1169.19 176.11,1169.19 176.36,1169.19 176.61,1169.19 176.86,1169.19 177.11,1169.19 177.36,1169.19 177.61,1169.19 177.86,1169.19 178.11,1169.19 178.36,1169.19 178.61,1169.19 178.86,1169.19 179.11,1169.19 179.36,1169.19 179.61,1169.19 179.86,1169.19 180.11,1169.19 180.36,1169.19 180.61,1169.19 180.86,1169.19 181.11,1169.19 181.36,1169.19 181.61,1169.19 181.86,1169.19 182.11,1169.19 182.36,1169.19 182.61,1169.19 182.86,1169.19 183.11,1169.19 183.36,1169.19 183.61,1169.19 183.86,1169.19 184.11,1169.19 184.36,1169.19 184.61,1169.19 184.86,1169.19 185.11,1169.19 185.36,1169.19 185.61,1169.19 185.86,1169.19 186.11,1169.19 186.36,1169.19 186.61,1169.19 186.86,1169.19 187.11,1169.19 187.36,1169.19 187.61,1169.19 187.86,1169.19 188.11,1169.19 188.36,1169.19 188.61,1169.19 188.86,1169.19 189.11,1169.19 189.36,1169.19 189.61,1169.19 189.86,1169.19 190.11,1169.19 190.36,1169.19 190.61,1169.19 190.86,1169.19 191.11,1169.19 191.36,1169.19 191.61,1169.19 191.86,1169.19 192.11,1169.19 192.36,1169.19 192.61,1169.19 192.86,1169.19 193.11,1169.19 193.36,1169.19 193.61,1169.19 193.86,1169.19 194.11,1169.19 194.36,1169.19 194.61,1169.19 194.86,1169.19 195.11,1169.19 195.36,1169.19 195.61,1169.19 195.86,1169.19 196.11,1169.19 196.36,1169.19 196.61,1169.19 196.86,1169.19 197.11,1169.19 197.36,1169.19 197.61,1169.19 197.86,1169.19 198.11,1169.19 198.36,1169.19 198.61,1169.19 198.86,1169.19 199.11,1169.19 199.36,1169.19 199.61,1169.19 199.86,1169.19 200.11,1169.19 200.36,1169.19 200.61,1169.19 200.86,1169.19 201.11,1169.19 201.36,1169.19 201.61,1169.19 201.86,1169.19 202.11,1169.19 202.36,1169.19 202.61,1169.19 202.86,1169.19 203.11,1169.19 203.36,1169.19 203.61,1169.19 203.86,1169.19 204.11,1169.19 204.36,1169.19 204.61,1169.19 204.86,1169.19 205.11,1169.19 205.36,1169.19 205.61,1169.19 205.86,1169.19 206.11,1169.19 206.36,1169.19 206.61,1169.19 206.86,1169.19 207.11,1169.19 207.36,1169.19 207.61,1169.19 207.86,1169.19 208.11,1169.19 208.36,1169.19 208.62,1169.19 208.87,1169.19 209.12,1169.19 209.37,1169.19 209.62,1169.19 209.87,1169.19 210.12,1169.19 210.37,1169.19 210.62,1169.18 210.87,1169.18 211.12,1169.18 211.37,1169.18 211.62,1169.18 211.87,1169.18 212.12,1169.18 212.37,1169.18 212.62,1169.18 212.87,1169.18 213.12,1169.18 213.37,1169.18 213.62,1169.18 213.87,1169.18 214.12,1169.18 214.37,1169.18 214.62,1169.18 214.87,1169.18 215.12,1169.18 215.37,1169.18 215.62,1169.18 215.87,1169.18 216.12,1169.18 216.37,1169.18 216.62,1169.18 216.87,1169.18 217.12,1169.18 217.37,1169.18 217.62,1169.18 217.87,1169.18 218.12,1169.18 218.37,1169.18 218.62,1169.18 218.87,1169.18 219.12,1169.18 219.37,1169.18 219.62,1169.18 219.87,1169.18 220.12,1169.18 220.37,1169.18 220.62,1169.18 220.87,1169.18 221.12,1169.18 221.37,1169.18 221.62,1169.17 221.87,1169.17 222.12,1169.17 222.37,1169.17 222.62,1169.17 222.87,1169.17 223.12,1169.17 223.37,1169.17 223.62,1169.17 223.87,1169.17 224.12,1169.17 224.37,1169.17 224.62,1169.17 224.87,1169.17 225.12,1169.17 225.37,1169.17 225.62,1169.17 225.87,1169.17 226.12,1169.17 226.37,1169.17 226.62,1169.16 226.87,1169.16 227.12,1169.16 227.37,1169.16 227.62,1169.16 227.87,1169.16 228.12,1169.16 228.37,1169.16 228.62,1169.16 228.87,1169.16 229.12,1169.16 229.37,1169.15 229.62,1169.15 229.87,1169.15 230.12,1169.15 230.37,1169.15 230.62,1169.15 230.87,1169.15 231.12,1169.14 231.37,1169.14 231.62,1169.14 231.87,1169.14 232.12,1169.14 232.37,1169.13 232.62,1169.13 232.87,1169.13 233.12,1169.13 233.37,1169.12 233.62,1169.12 233.87,1169.11 234.12,1169.11 234.37,1169.10 234.62,1169.10 234.87,1169.09 235.12,1169.08 235.37,1169.08 235.62,1169.07 235.87,1169.05 236.12,1169.04 236.37,1169.03 236.62,1169.01 236.87,1168.99 237.12,1168.96 237.37,1168.93 237.62,1168.89 237.87,1168.84 238.12,1168.79 238.37,1168.73 238.62,1168.66 238.87,1168.60 239.12,1168.55 239.37,1168.53 239.62,1168.54 239.87,1168.58 240.12,1168.63 240.37,1168.69 240.62,1168.75 240.87,1168.80 241.12,1168.85 241.37,1168.88 241.62,1168.91 241.87,1168.93 242.12,1168.95 242.37,1168.96 242.62,1168.97 242.87,1168.98 243.12,1168.99 243.37,1168.99 243.62,1168.99 243.87,1168.99 244.12,1168.99 244.37,1168.99 244.62,1168.99 244.87,1168.99 245.12,1168.98 245.37,1168.98 245.62,1168.97 245.87,1168.96 246.12,1168.95 246.37,1168.94 246.62,1168.93 246.87,1168.92 247.12,1168.91 247.37,1168.90 247.62,1168.88 247.87,1168.86 248.12,1168.84 248.37,1168.82 248.62,1168.80 248.87,1168.78 249.12,1168.75 249.37,1168.72 249.62,1168.68 249.87,1168.64 250.12,1168.59 250.37,1168.51 250.62,1168.39 250.87,1168.17 251.12,1167.76 251.37,1166.99 251.62,1165.58 251.87,1163.09 252.12,1158.92 252.37,1152.28 252.62,1142.32 252.87,1128.27 253.12,1109.70 253.37,1107.40 253.62,1107.40 253.87,1107.40 254.12,1107.40 254.37,1107.40 254.62,1107.40 254.87,1107.40 255.12,1107.40 255.37,1107.40 255.62,1107.40 255.87,1107.40 256.12,1107.40 256.37,1107.40 256.62,1112.85 256.87,1130.73 257.12,1144.10 257.37,1153.50 257.62,1159.70 257.87,1163.57 258.12,1165.86 258.37,1167.14 258.62,1167.84 258.87,1168.21 259.12,1168.41 259.37,1168.53 259.62,1168.60 259.87,1168.65 260.12,1168.69 260.37,1168.72 260.62,1168.75 260.87,1168.78 261.12,1168.80 261.37,1168.83 261.62,1168.85 261.87,1168.87 262.12,1168.88 262.37,1168.90 262.62,1168.91 262.87,1168.93 263.12,1168.94 263.37,1168.95 263.62,1168.96 263.87,1168.96 264.12,1168.97 264.37,1168.98 264.62,1168.98 264.87,1168.99 265.12,1168.99 265.37,1169.00 265.62,1169.00 265.87,1169.00 266.12,1169.00 266.37,1169.00 266.62,1169.00 266.87,1168.99 267.12,1168.99 267.37,1168.98 267.62,1168.97 267.87,1168.95 268.12,1168.94 268.37,1168.91 268.62,1168.89 268.87,1168.85 269.12,1168.81 269.37,1168.76 269.62,1168.70 269.87,1168.64 270.12,1168.58 270.37,1168.54 270.62,1168.53 270.87,1168.55 271.12,1168.60 271.37,1168.66 271.62,1168.73 271.87,1168.79 272.12,1168.84 272.37,1168.89 272.62,1168.93 272.87,1168.96 273.12,1168.99 273.37,1169.01 273.62,1169.03 273.87,1169.04 274.12,1169.05 274.37,1169.07 274.62,1169.08 274.87,1169.08 275.12,1169.09 275.37,1169.10 275.62,1169.10 275.87,1169.11 276.12,1169.11 276.37,1169.12 276.62,1169.12 276.87,1169.12 277.12,1169.13 277.37,1169.13 277.62,1169.13 277.87,1169.13 278.12,1169.14 278.37,1169.14 278.62,1169.14 278.87,1169.14 279.12,1169.14 279.37,1169.15 279.62,1169.15 279.87,1169.15 280.12,1169.15 280.37,1169.15 280.62,1169.15 280.87,1169.15 281.12,1169.15 281.37,1169.16 281.62,1169.16 281.87,1169.16 282.12,1169.16 282.37,1169.16 282.62,1169.16 282.87,1169.16 283.12,1169.16 283.37,1169.16 283.62,1169.16 283.87,1169.16 284.12,1169.16 284.37,1169.16 284.62,1169.17 284.87,1169.17 285.12,1169.17 285.37,1169.17 285.62,1169.17 285.87,1169.17 286.12,1169.17 286.37,1169.17 286.62,1169.17 286.87,1169.17 287.12,1169.17 287.37,1169.17 287.62,1169.17 287.87,1169.17 288.12,1169.17 288.37,1169.17 288.62,1169.17 288.87,1169.17 289.12,1169.17 289.37,1169.17 289.62,1169.17 289.87,1169.17 290.12,1169.17 290.37,1169.17 290.62,1169.17 290.87,1169.17 291.12,1169.17 291.37,1169.18 291.62,1169.18 291.87,1169.18 292.12,1169.18 292.37,1169.18 292.62,1169.18 292.87,1169.18 293.12,1169.18 293.37,1169.18 293.62,1169.18 293.87,1169.18 294.12,1169.18 294.37,1169.18 294.62,1169.18 294.87,1169.18 295.12,1169.18 295.37,1169.18 295.62,1169.18 295.87,1169.18 296.12,1169.18 296.37,1169.18 296.62,1169.18 296.87,1169.18 297.12,1169.18 297.37,1169.18 297.62,1169.18 297.87,1169.18 298.12,1169.18 298.37,1169.18 298.62,1169.18 298.87,1169.18 299.12,1169.18 299.37,1169.18 299.62,1169.18 299.87,1169.18 300.12,1169.18 300.37,1169.18 300.62,1169.18 300.87,1169.18 301.12,1169.18 301.37,1169.18 301.62,1169.18 301.87,1169.18 302.12,1169.18 302.37,1169.18 302.62,1169.18 302.87,1169.18 303.12,1169.18 303.37,1169.18 303.62,1169.18 303.87,1169.18 304.12,1169.18 304.37,1169.18 304.62,1169.18 304.87,1169.18 305.12,1169.18 305.37,1169.18 305.62,1169.18 305.87,1169.18 306.12,1169.18 306.37,1169.18 306.62,1169.18 306.87,1169.18 307.12,1169.18 307.37,1169.18 307.62,1169.18 307.87,1169.18 308.12,1169.18 308.37,1169.18 308.62,1169.18 308.87,1169.18 309.12,1169.18 309.37,1169.18 309.62,1169.18 309.87,1169.18 310.12,1169.18 310.37,1169.18 310.62,1169.18 310.87,1169.18 311.12,1169.18 311.37,1169.18 311.62,1169.18 311.87,1169.18 312.12,1169.18 312.37,1169.18 312.62,1169.18 312.87,1169.18 313.12,1169.18 313.37,1169.18 313.62,1169.18 313.87,1169.18 314.12,1169.18 314.37,1169.18 314.62,1169.18 314.87,1169.18 315.12,1169.18 315.37,1169.18 315.62,1169.18 315.87,1169.18 316.12,1169.18 316.37,1169.18 316.62,1169.18 316.87,1169.18 317.12,1169.18 317.37,1169.18 317.63,1169.18 317.88,1169.18 318.13,1169.18 318.38,1169.18 318.63,1169.18 318.88,1169.18 319.13,1169.18 319.38,1169.18 319.63,1169.18 319.88,1169.18 320.13,1169.18 320.38,1169.18 320.63,1169.18 320.88,1169.18 321.13,1169.18 321.38,1169.18 321.63,1169.18 321.88,1169.18 322.13,1169.18 322.38,1169.18 322.63,1169.18 322.88,1169.18 323.13,1169.18 323.38,1169.18 323.63,1169.18 323.88,1169.18 324.13,1169.18 324.38,1169.18 324.63,1169.18 324.88,1169.18 325.13,1169.18 325.38,1169.18 325.63,1169.18 325.88,1169.18 326.13,1169.18 326.38,1169.18 326.63,1169.18 326.88,1169.18 327.13,1169.18 327.38,1169.18 327.63,1169.18 327.88,1169.18 328.13,1169.18 328.38,1169.18 328.63,1169.18 328.88,1169.18 329.13,1169.18 329.38,1169.18 329.63,1169.18 329.88,1169.18 330.13,1169.18 330.38,1169.18 330.63,1169.18 330.88,1169.18 331.13,1169.18 331.38,1169.18 331.63,1169.18 331.88,1169.18 332.13,1169.18 332.38,1169.18 332.63,1169.18 332.88,1169.18 333.13,1169.18 333.38,1169.18 333.63,1169.18 333.88,1169.18 334.13,1169.18 334.38,1169.17 334.63,1169.17 334.88,1169.17 335.13,1169.17 335.38,1169.17 335.63,1169.17 335.88,1169.17 336.13,1169.17 336.38,1169.17 336.63,1169.17 336.88,1169.17 337.13,1169.17 337.38,1169.17 337.63,1169.17 337.88,1169.17 338.13,1169.17 338.38,1169.17 338.63,1169.17 338.88,1169.17 339.13,1169.17 339.38,1169.17 339.63,1169.17 339.88,1169.17 340.13,1169.17 340.38,1169.17 340.63,1169.17 340.88,1169.17 341.13,1169.17 341.38,1169.17 341.63,1169.17 341.88,1169.17 342.13,1169.16 342.38,1169.16 342.63,1169.16 342.88,1169.16 343.13,1169.16 343.38,1169.16 343.63,1169.16 343.88,1169.16 344.13,1169.16 344.38,1169.16 344.63,1169.16 344.88,1169.16 345.13,1169.16 345.38,1169.16 345.63,1169.16 345.88,1169.15 346.13,1169.15 346.38,1169.15 346.63,1169.15 346.88,1169.15 347.13,1169.15 347.38,1169.15 347.63,1169.15 347.88,1169.15 348.13,1169.14 348.38,1169.14 348.63,1169.14 348.88,1169.14 349.13,1169.14 349.38,1169.14 349.63,1169.13 349.88,1169.13 350.13,1169.13 350.38,1169.13 350.63,1169.13 350.88,1169.12 351.13,1169.12 351.38,1169.12 351.63,1169.11 351.88,1169.11 352.13,1169.11 352.38,1169.10 352.63,1169.10 352.88,1169.09 353.13,1169.09 353.38,1169.08 353.63,1169.08 353.88,1169.07 354.13,1169.06 354.38,1169.06 354.63,1169.05 354.88,1169.04 355.13,1169.02 355.38,1169.01 355.63,1169.00 355.88,1168.98 356.13,1168.96 356.38,1168.93 356.63,1168.91 356.88,1168.87 357.13,1168.83 357.38,1168.78 357.63,1168.71 357.88,1168.62 358.13,1168.51 358.38,1168.35 358.63,1168.13 358.88,1167.81 359.13,1167.38 359.38,1166.84 359.63,1166.35 359.88,1166.20 360.13,1166.47 360.38,1166.88 360.63,1167.19 360.88,1167.34 361.13,1167.31 361.38,1167.09 361.63,1166.62 361.88,1165.77 362.13,1164.37 362.38,1162.59 362.63,1161.69 362.88,1162.62 363.13,1163.95 363.38,1164.61 363.63,1164.43 363.88,1163.42 364.13,1162.04 364.38,1161.87 364.63,1163.44 364.88,1165.20 365.13,1166.43 365.38,1167.21 365.63,1167.69 365.88,1168.01 366.13,1168.23 366.38,1168.39 366.63,1168.50 366.88,1168.58 367.13,1168.65 367.38,1168.70 367.63,1168.73 367.88,1168.76 368.13,1168.78 368.38,1168.80 368.63,1168.81 368.88,1168.81 369.13,1168.82 369.38,1168.81 369.63,1168.80 369.88,1168.79 370.13,1168.77 370.38,1168.74 370.63,1168.71 370.88,1168.66 371.13,1168.60 371.38,1168.53 371.63,1168.42 371.88,1168.28 372.13,1168.09 372.38,1167.80 372.63,1167.36 372.88,1166.68 373.13,1165.68 373.38,1164.57 373.63,1163.99 373.88,1163.79 374.13,1163.05 374.38,1161.67 374.63,1161.02 374.88,1162.08 375.13,1163.45 375.38,1164.05 375.63,1163.79 375.88,1163.21 376.13,1163.52 376.38,1164.74 376.63,1165.85 376.88,1166.50 377.13,1166.77 377.38,1166.73 377.63,1166.40 377.88,1165.78 378.13,1165.14 378.38,1165.07 378.63,1165.76 378.88,1166.64 379.13,1167.33 379.38,1167.80 379.63,1168.12 379.88,1168.34 380.13,1168.49 380.38,1168.61 380.63,1168.69 380.88,1168.76 381.13,1168.81 381.38,1168.85 381.63,1168.89 381.88,1168.91 382.13,1168.94 382.38,1168.96 382.63,1168.98 382.88,1168.99 383.13,1169.00 383.38,1169.02 383.63,1169.03 383.88,1169.04 384.13,1169.04 384.38,1169.05 384.63,1169.06 384.88,1169.06 385.13,1169.07 385.38,1169.07 385.63,1169.08 385.88,1169.08 386.13,1169.09 386.38,1169.09 386.63,1169.09 386.88,1169.10 387.13,1169.10 387.38,1169.10 387.63,1169.10 387.88,1169.11 388.13,1169.11 388.38,1169.11 388.63,1169.11 388.88,1169.11 389.13,1169.11 389.38,1169.12 389.63,1169.12 389.88,1169.12 390.13,1169.12 390.38,1169.12 390.63,1169.12 390.88,1169.12 391.13,1169.12 391.38,1169.12 391.63,1169.12 391.88,1169.13 392.13,1169.13 392.38,1169.13 392.63,1169.13 392.88,1169.13 393.13,1169.13 393.38,1169.13 393.63,1169.13 393.88,1169.13 394.13,1169.13 394.38,1169.13 394.63,1169.13 394.88,1169.13 395.13,1169.13 395.38,1169.13 395.63,1169.13 395.88,1169.13 396.13,1169.13 396.38,1169.13 396.63,1169.13 396.88,1169.13 397.13,1169.13 397.38,1169.13 397.63,1169.13 397.88,1169.13 398.13,1169.13 398.38,1169.13 398.63,1169.13 398.88,1169.13 399.13,1169.13 399.38,1169.13 399.63,1169.13 399.88,1169.13 400.13,1169.12 400.38,1169.12 400.63,1169.12 400.88,1169.12 401.13,1169.12 401.38,1169.12 401.63,1169.12 401.88,1169.12 402.13,1169.12 402.38,1169.12 402.63,1169.12 402.88,1169.12 403.13,1169.12 403.38,1169.12 403.63,1169.12 403.88,1169.11 404.13,1169.11 404.38,1169.11 404.63,1169.11 404.88,1169.11 405.13,1169.11 405.38,1169.11 405.63,1169.11 405.88,1169.11 406.13,1169.10 406.38,1169.10 406.63,1169.10 406.88,1169.10 407.13,1169.10 407.38,1169.10 407.63,1169.10 407.88,1169.09 408.13,1169.09 408.38,1169.09 408.63,1169.09 408.88,1169.09 409.13,1169.08 409.38,1169.08 409.63,1169.08 409.88,1169.08 410.13,1169.08 410.38,1169.07 410.63,1169.07 410.88,1169.07 411.13,1169.06 411.38,1169.06 411.63,1169.06 411.88,1169.06 412.13,1169.05 412.38,1169.05 412.63,1169.04 412.88,1169.04 413.13,1169.04 413.38,1169.03 413.63,1169.03 413.88,1169.02 414.13,1169.02 414.38,1169.01 414.63,1169.01 414.88,1169.00 415.13,1169.00 415.38,1168.99 415.63,1168.98 415.88,1168.98 416.13,1168.97 416.38,1168.96 416.63,1168.95 416.88,1168.94 417.13,1168.94 417.38,1168.93 417.63,1168.92 417.88,1168.90 418.13,1168.89 418.38,1168.88 418.63,1168.87 418.88,1168.85 419.13,1168.84 419.38,1168.82 419.63,1168.80 419.88,1168.78 420.13,1168.76 420.38,1168.74 420.63,1168.72 420.88,1168.69 421.13,1168.67 421.38,1168.64 421.63,1168.61 421.88,1168.58 422.13,1168.55 422.38,1168.51 422.63,1168.48 422.88,1168.44 423.13,1168.41 423.38,1168.37 423.63,1168.34 423.88,1168.31 424.13,1168.28 424.38,1168.25 424.63,1168.23 424.88,1168.21 425.13,1168.19 425.38,1168.18 425.63,1168.17 425.88,1168.16 426.13,1168.16 426.38,1168.16 426.64,1168.15 426.89,1168.15 427.14,1168.15 427.39,1168.14 427.64,1168.13 427.89,1168.12 428.14,1168.10 428.39,1168.07 428.64,1168.04 428.89,1168.01 429.14,1167.96 429.39,1167.91 429.64,1167.85 429.89,1167.79 430.14,1167.71 430.39,1167.63 430.64,1167.54 430.89,1167.44 431.14,1167.33 431.39,1167.22 431.64,1167.11 431.89,1167.01 432.14,1166.91 432.39,1166.82 432.64,1166.76 432.89,1166.71 433.14,1166.69 433.39,1166.69 433.64,1166.70 433.89,1166.73 434.14,1166.77 434.39,1166.81 434.64,1166.84 434.89,1166.86 435.14,1166.85 435.39,1166.81 435.64,1166.73 435.89,1166.61 436.14,1166.41 436.39,1166.15 436.64,1165.81 436.89,1165.43 437.14,1165.06 437.39,1164.83 437.64,1164.83 437.89,1165.05 438.14,1165.39 438.39,1165.75 438.64,1166.04 438.89,1166.25 439.14,1166.39 439.39,1166.45 439.64,1166.45 439.89,1166.41 440.14,1166.35 440.39,1166.28 440.64,1166.22 440.89,1166.20 441.14,1166.21 441.39,1166.27 441.64,1166.36 441.89,1166.47 442.14,1166.58 442.39,1166.68 442.64,1166.75 442.89,1166.79 443.14,1166.79 443.39,1166.75 443.64,1166.65 443.89,1166.50 444.14,1166.27 444.39,1165.95 444.64,1165.51 444.89,1164.92 445.14,1164.10 445.39,1162.99 445.64,1161.49 445.89,1159.49 446.14,1156.99 446.39,1154.32 446.64,1152.32 446.89,1152.03 447.14,1153.65 447.39,1156.27 447.64,1158.92 447.89,1161.12 448.14,1162.82 448.39,1164.09 448.64,1165.04 448.89,1165.76 449.14,1166.31 449.39,1166.73 449.64,1167.07 449.89,1167.34 450.14,1167.56 450.39,1167.74 450.64,1167.89 450.89,1168.01 451.14,1168.12 451.39,1168.21 451.64,1168.29 451.89,1168.35 452.14,1168.41 452.39,1168.46 452.64,1168.51 452.89,1168.55 453.14,1168.59 453.39,1168.62 453.64,1168.64 453.89,1168.67 454.14,1168.69 454.39,1168.71 454.64,1168.73 454.89,1168.75 455.14,1168.76 455.39,1168.77 455.64,1168.79 455.89,1168.80 456.14,1168.81 456.39,1168.81 456.64,1168.82 456.89,1168.83 457.14,1168.83 457.39,1168.84 457.64,1168.84 457.89,1168.84 458.14,1168.84 458.39,1168.84 458.64,1168.84 458.89,1168.84 459.14,1168.84 459.39,1168.83 459.64,1168.83 459.89,1168.82 460.14,1168.82 460.39,1168.81 460.64,1168.80 460.89,1168.79 461.14,1168.78 461.39,1168.76 461.64,1168.74 461.89,1168.72 462.14,1168.70 462.39,1168.68 462.64,1168.65 462.89,1168.61 463.14,1168.58 463.39,1168.53 463.64,1168.49 463.89,1168.43 464.14,1168.37 464.39,1168.30 464.64,1168.22 464.89,1168.14 465.14,1168.05 465.39,1167.95 465.64,1167.85 465.89,1167.75 466.14,1167.66 466.39,1167.58 466.64,1167.53 466.89,1167.50 467.14,1167.50 467.39,1167.53 467.64,1167.59 467.89,1167.67 468.14,1167.76 468.39,1167.86 468.64,1167.96 468.89,1168.06 469.14,1168.15 469.39,1168.24 469.64,1168.32 469.89,1168.39 470.14,1168.45 470.39,1168.50 470.64,1168.55 470.89,1168.59 471.14,1168.63 471.39,1168.67 471.64,1168.70 471.89,1168.72 472.14,1168.74 472.39,1168.77 472.64,1168.78 472.89,1168.80 473.14,1168.81 473.39,1168.83 473.64,1168.84 473.89,1168.85 474.14,1168.85 474.39,1168.86 474.64,1168.87 474.89,1168.87 475.14,1168.88 475.39,1168.88 475.64,1168.88 475.89,1168.88 476.14,1168.88 476.39,1168.88 476.64,1168.88 476.89,1168.88 477.14,1168.88 477.39,1168.88 477.64,1168.87 477.89,1168.87 478.14,1168.86 478.39,1168.86 478.64,1168.85 478.89,1168.84 479.14,1168.83 479.39,1168.82 479.64,1168.81 479.89,1168.80 480.14,1168.79 480.39,1168.77 480.64,1168.75 480.89,1168.74 481.14,1168.71 481.39,1168.69 481.64,1168.67 481.89,1168.64 482.14,1168.61 482.39,1168.58 482.64,1168.54 482.89,1168.50 483.14,1168.45 483.39,1168.40 483.64,1168.34 483.89,1168.28 484.14,1168.21 484.39,1168.14 484.64,1168.05 484.89,1167.96 485.14,1167.87 485.39,1167.76 485.64,1167.65 485.89,1167.54 486.14,1167.43 486.39,1167.31 486.64,1167.21 486.89,1167.12 487.14,1167.05 487.39,1167.00 487.64,1166.97 487.89,1166.98 488.14,1167.02 488.39,1167.08 488.64,1167.16 488.89,1167.26 489.14,1167.37 489.39,1167.49 489.64,1167.60 489.89,1167.71 490.14,1167.82 490.39,1167.92 490.64,1168.01 490.89,1168.10 491.14,1168.18 491.39,1168.25 491.64,1168.31 491.89,1168.37 492.14,1168.43 492.39,1168.47 492.64,1168.52 492.89,1168.56 493.14,1168.59 493.39,1168.62 493.64,1168.65 493.89,1168.68 494.14,1168.70 494.39,1168.73 494.64,1168.74 494.89,1168.76 495.14,1168.78 495.39,1168.79 495.64,1168.81 495.89,1168.82 496.14,1168.83 496.39,1168.84 496.64,1168.85 496.89,1168.85 497.14,1168.86 497.39,1168.86 497.64,1168.87 497.89,1168.87 498.14,1168.88 498.39,1168.88 498.64,1168.88 498.89,1168.88 499.14,1168.88 499.39,1168.88 499.64,1168.88 499.89,1168.87 500.14,1168.86 500.39,1168.84 500.64,1168.81 500.89,1168.74 501.14,1168.61 501.39,1168.38 501.64,1167.98 501.89,1167.31 502.14,1166.23 502.39,1164.59 502.64,1162.20 502.89,1158.90 503.14,1154.58 503.39,1149.26 503.64,1143.08 503.89,1136.38 504.14,1129.67 504.39,1123.56 504.64,1118.71 504.89,1115.66 505.14,1114.80 505.39,1116.20 505.64,1119.67 505.89,1124.76 506.14,1130.85 506.39,1137.27 506.64,1143.40 506.89,1148.78 507.14,1153.11 507.39,1156.28 507.64,1158.36 507.89,1159.63 508.14,1160.48 508.39,1161.32 508.64,1162.33 508.89,1163.44 509.14,1164.50 509.39,1165.39 509.64,1166.11 509.89,1166.67 510.14,1167.10 510.39,1167.44 510.64,1167.70 510.89,1167.90 511.14,1168.07 511.39,1168.20 511.64,1168.31 511.89,1168.40 512.14,1168.47 512.39,1168.53 512.64,1168.59 512.89,1168.63 513.14,1168.67 513.39,1168.70 513.64,1168.73 513.89,1168.76 514.14,1168.78 514.39,1168.80 514.64,1168.81 514.89,1168.83 515.14,1168.84 515.39,1168.85 515.64,1168.86 515.89,1168.87 516.14,1168.88 516.39,1168.88 516.64,1168.89 516.89,1168.89 517.14,1168.90 517.39,1168.90 517.64,1168.90 517.89,1168.90 518.14,1168.90 518.39,1168.90 518.64,1168.90 518.89,1168.90 519.14,1168.90 519.39,1168.90 519.64,1168.90 519.89,1168.90 520.14,1168.89 520.39,1168.89 520.64,1168.89 520.89,1168.88 521.14,1168.87 521.39,1168.87 521.64,1168.86 521.89,1168.85 522.14,1168.85 522.39,1168.84 522.64,1168.83 522.89,1168.82 523.14,1168.81 523.39,1168.79 523.64,1168.78 523.89,1168.76 524.14,1168.75 524.39,1168.73 524.64,1168.71 524.89,1168.68 525.14,1168.66 525.39,1168.63 525.64,1168.60 525.89,1168.57 526.14,1168.53 526.39,1168.48 526.64,1168.43 526.89,1168.37 527.14,1168.31 527.39,1168.23 527.64,1168.15 527.89,1168.05 528.14,1167.93 528.39,1167.78 528.64,1167.61 528.89,1167.40 529.14,1167.15 529.39,1166.83 529.64,1166.44 529.89,1165.93 530.14,1165.29 530.39,1164.44 530.64,1163.34 530.89,1161.92 531.14,1160.14 531.39,1158.09 531.64,1156.14 531.89,1154.92 532.14,1155.03 532.39,1156.39 532.64,1158.39 532.89,1160.39 533.14,1162.11 533.39,1163.46 533.64,1164.51 533.89,1165.30 534.14,1165.91 534.39,1166.38 534.64,1166.75 534.89,1167.04 535.14,1167.27 535.39,1167.46 535.65,1167.61 535.90,1167.73 536.15,1167.83 536.40,1167.91 536.65,1167.98 536.90,1168.03 537.15,1168.08 537.40,1168.11 537.65,1168.14 537.90,1168.16 538.15,1168.17 538.40,1168.18 538.65,1168.18 538.90,1168.18 539.15,1168.17 539.40,1168.15 539.65,1168.14 539.90,1168.11 540.15,1168.09 540.40,1168.05 540.65,1168.01 540.90,1167.96 541.15,1167.91 541.40,1167.85 541.65,1167.77 541.90,1167.69 542.15,1167.58 542.40,1167.47 542.65,1167.32 542.90,1167.15 543.15,1166.95 543.40,1166.70 543.65,1166.39 543.90,1166.02 544.15,1165.58 544.40,1165.10 544.65,1164.63 544.90,1164.29 545.15,1164.13 545.40,1164.17 545.65,1164.29 545.90,1164.40 546.15,1164.44 546.40,1164.39 546.65,1164.23 546.90,1163.97 547.15,1163.61 547.40,1163.15 547.65,1162.58 547.90,1161.89 548.15,1161.06 548.40,1160.09 548.65,1158.97 548.90,1157.69 549.15,1156.28 549.40,1154.76 549.65,1153.22 549.90,1151.79 550.15,1150.62 550.40,1149.89 550.65,1149.71 550.90,1150.13 551.15,1151.06 551.40,1152.37 551.65,1153.89 551.90,1155.46 552.15,1156.98 552.40,1158.38 552.65,1159.64 552.90,1160.75 553.15,1161.72 553.40,1162.56 553.65,1163.28 553.90,1163.90 554.15,1164.44 554.40,1164.91 554.65,1165.32 554.90,1165.67 555.15,1165.98 555.40,1166.26 555.65,1166.50 555.90,1166.71 556.15,1166.90 556.40,1167.07 556.65,1167.22 556.90,1167.36 557.15,1167.48 557.40,1167.60 557.65,1167.70 557.90,1167.79 558.15,1167.87 558.40,1167.95 558.65,1168.02 558.90,1168.08 559.15,1168.14 559.40,1168.20 559.65,1168.25 559.90,1168.29 560.15,1168.34 560.40,1168.38 560.65,1168.41 560.90,1168.45 561.15,1168.48 561.40,1168.51 561.65,1168.54 561.90,1168.57 562.15,1168.59 562.40,1168.62 562.65,1168.64 562.90,1168.66 563.15,1168.68 563.40,1168.70 563.65,1168.72 563.90,1168.73 564.15,1168.75 564.40,1168.76 564.65,1168.78 564.90,1168.79 565.15,1168.81 565.40,1168.82 565.65,1168.83 565.90,1168.84 566.15,1168.85 566.40,1168.86 566.65,1168.87 566.90,1168.88 567.15,1168.89 567.40,1168.90 567.65,1168.91 567.90,1168.91 568.15,1168.92 568.40,1168.93 568.65,1168.94 568.90,1168.94 569.15,1168.95 569.40,1168.95 569.65,1168.96 569.90,1168.97 570.15,1168.97 570.40,1168.98 570.65,1168.98 570.90,1168.99 571.15,1168.99 571.40,1169.00 571.65,1169.00 571.90,1169.01 572.15,1169.01 572.40,1169.01 572.65,1169.02 572.90,1169.02 573.15,1169.02 573.40,1169.03 573.65,1169.03 573.90,1169.04 574.15,1169.04 574.40,1169.04 574.65,1169.04 574.90,1169.05 575.15,1169.05 575.40,1169.05 575.65,1169.06 575.90,1169.06 576.15,1169.06 576.40,1169.06 576.65,1169.07 576.90,1169.07 577.15,1169.07 577.40,1169.07 577.65,1169.07 577.90,1169.08 578.15,1169.08 578.40,1169.08 578.65,1169.08 578.90,1169.08 579.15,1169.09 579.40,1169.09 579.65,1169.09 579.90,1169.09 580.15,1169.09 580.40,1169.09 580.65,1169.10 580.90,1169.10 581.15,1169.10 581.40,1169.10 581.65,1169.10 581.90,1169.10 582.15,1169.11 582.40,1169.11 582.65,1169.11 582.90,1169.11 583.15,1169.11 583.40,1169.11 583.65,1169.11 583.90,1169.11 584.15,1169.12 584.40,1169.12 584.65,1169.12 584.90,1169.12 585.15,1169.12 585.40,1169.12 585.65,1169.12 585.90,1169.12 586.15,1169.12 586.40,1169.12 586.65,1169.13 586.90,1169.13 587.15,1169.13 587.40,1169.13 587.65,1169.13 587.90,1169.13 588.15,1169.13 588.40,1169.13 588.65,1169.13 588.90,1169.13 589.15,1169.13 589.40,1169.13 589.65,1169.14 589.90,1169.14" fill="none" stroke="#c98282" stroke-width="1.75" stroke-linejoin="round"/>
<polygon points="75.90,1164.50 76.50,1157.60 78.00,1157.60 78.70,1164.50" fill="#a83030" opacity="0.85"/>
<polygon points="358.90,1167.00 359.30,1164.80 361.80,1164.80 362.20,1161.80 364.80,1161.80 365.20,1167.00" fill="#9a1818" opacity="0.85"/>
<polygon points="373.10,1167.00 373.80,1161.20 376.20,1161.20 376.80,1165.00 379.20,1165.00 379.60,1167.00" fill="#9a1818" opacity="0.85"/>
<polygon points="504.00,1135.00 504.70,1116.50 505.70,1116.50 506.30,1135.00" fill="#8a0c0c" opacity="0.9"/>
<rect x="73.90" y="176.80" width="6.50" height="66.40" rx="3.25" ry="5.85" fill="#e81818"/>
<rect x="75.53" y="190.08" width="3.25" height="39.84" rx="1.62" ry="3.25" fill="#d00000"/>
<rect x="358.80" y="177.50" width="6.40" height="63.10" rx="2.24" ry="2.2" fill="#e81818"/>
<rect x="360.72" y="186.97" width="2.56" height="44.17" rx="1.28" ry="2.56" fill="#d80000"/>
<rect x="373.10" y="177.50" width="6.50" height="63.10" rx="2.27" ry="2.2" fill="#e81818"/>
<rect x="375.05" y="186.97" width="2.60" height="44.17" rx="1.30" ry="2.60" fill="#d80000"/>
<polygon points="506.30,126.50 507.70,126.50 508.60,178.00 505.40,178.00" fill="#d00000"/>
<ellipse cx="505.15" cy="199.45" rx="5.55" ry="24.15" fill="#f27070" stroke="none" stroke-width="1.0" opacity="1.0"/>
<ellipse cx="505.15" cy="199.45" rx="5.05" ry="23.65" fill="none" stroke="#e82828" stroke-width="1.0" opacity="1.0"/>
<ellipse cx="505.15" cy="199.45" rx="3.25" ry="15.80" fill="none" stroke="#e82828" stroke-width="1.0" opacity="1.0"/>
<ellipse cx="505.15" cy="199.45" rx="1.44" ry="7.95" fill="none" stroke="#e82828" stroke-width="1.0" opacity="1.0"/>
<rect x="505.40" y="172.00" width="3.50" height="48.00" rx="1.75" ry="3.15" fill="#c40000"/>
<polygon points="502.45,220.00 503.95,220.00 504.30,236.30 502.10,236.30" fill="#e81818"/>
<polygon points="545.40,181.00 547.80,181.00 547.60,300.00 545.60,300.00" fill="#e81818"/>
<ellipse cx="555.10" cy="201.25" rx="0.90" ry="8.05" fill="#f06060" stroke="none" stroke-width="1.0" opacity="1.0"/>
<ellipse cx="239.10" cy="323.75" rx="0.90" ry="2.25" fill="#f07070" stroke="none" stroke-width="1.0" opacity="1.0"/>
<polygon points="251.80,288.40 253.20,288.40 253.50,300.00 251.50,300.00" fill="#f04040"/>
<ellipse cx="253.55" cy="323.50" rx="5.95" ry="26.50" fill="#f06a6a" stroke="none" stroke-width="1.0" opacity="1.0"/>
<path d="M251.8,301 C252.5,298 259,298 259.8,301 C261.2,315 261,335 258.6,348 L256.6,372.7 L255.6,372.7 L253.4,348 C251,335 250.8,315 251.8,301 Z" fill="#d41010"/>
<path d="M253.2,304 C254,301 258,301 258.7,304 C259.6,318 259.4,333 257.8,344 L256.2,360 L255.8,360 L254.2,344 C252.6,333 252.4,318 253.2,304 Z" fill="#a80000"/>
<path d="M444,300.5 C431.6,299.5 428.6,304.5 428.6,321.5 L428.6,333.5 C428.6,350.5 431.6,355.5 444,354.5" fill="none" stroke="#ee3a3a" stroke-width="1.1"/>
<path d="M444,309 C435.5,308 432.5,313 432.5,321.5 L432.5,333.5 C432.5,342 435.5,347 444,346" fill="none" stroke="#ee3a3a" stroke-width="1.1"/>
<ellipse cx="439.50" cy="325.00" rx="2.50" ry="10.50" fill="none" stroke="#ee3a3a" stroke-width="1.0" opacity="1.0"/>
<ellipse cx="439.50" cy="325.00" rx="1.00" ry="5.00" fill="none" stroke="#ee3a3a" stroke-width="1.0" opacity="1.0"/>
<ellipse cx="448.00" cy="327.65" rx="3.80" ry="28.35" fill="#e81818" stroke="none" stroke-width="1.0" opacity="1.0"/>
<ellipse cx="448.00" cy="327.65" rx="1.33" ry="22.68" fill="#cc0000" stroke="none" stroke-width="1.0" opacity="1.0"/>
<ellipse cx="488.80" cy="324.40" rx="2.55" ry="13.05" fill="none" stroke="#ee3a3a" stroke-width="1.1" opacity="1.0"/>
<ellipse cx="488.80" cy="324.40" rx="0.69" ry="4.89" fill="none" stroke="#ee3a3a" stroke-width="1.1" opacity="1.0"/>
<ellipse cx="511.25" cy="323.80" rx="0.75" ry="13.00" fill="#ee4040" stroke="none" stroke-width="1.0" opacity="1.0"/>
<ellipse cx="532.25" cy="328.20" rx="3.45" ry="29.00" fill="#e81818" stroke="none" stroke-width="1.0" opacity="1.0"/>
<ellipse cx="532.25" cy="328.20" rx="1.04" ry="21.75" fill="#f05050" stroke="none" stroke-width="1.0" opacity="1.0"/>
<ellipse cx="545.10" cy="323.50" rx="1.70" ry="12.50" fill="#e81818" stroke="none" stroke-width="1.0" opacity="1.0"/>
<ellipse cx="551.50" cy="323.10" rx="4.20" ry="23.50" fill="none" stroke="#e81818" stroke-width="1.6" opacity="1.0"/>
<ellipse cx="551.50" cy="323.10" rx="2.20" ry="13.78" fill="none" stroke="#e81818" stroke-width="1.6" opacity="1.0"/>
<polygon points="553.15,287.50 554.65,287.50 554.90,300.00 552.90,300.00" fill="#e81818"/>
<rect x="76.60" y="703.00" width="7.20" height="111.70" rx="2.52" ry="2.2" fill="#e81818"/>
<rect x="78.40" y="733.72" width="3.60" height="50.27" rx="1.80" ry="3.60" fill="#d40000"/>
<rect x="245.80" y="720.00" width="1.60" height="45.80" rx="0.80" ry="1.44" fill="#ee3a3a"/>
<rect x="360.00" y="703.90" width="7.00" height="109.70" rx="2.45" ry="2.2" fill="#e81818"/>
<rect x="362.10" y="714.87" width="2.80" height="87.76" rx="1.40" ry="2.80" fill="#dc0000"/>
<rect x="374.60" y="703.30" width="6.70" height="109.30" rx="2.34" ry="2.2" fill="#e81818"/>
<rect x="376.61" y="714.23" width="2.68" height="87.44" rx="1.34" ry="2.68" fill="#dc0000"/>
<rect x="373.00" y="733.00" width="3.50" height="35.00" rx="1.75" ry="3.15" fill="#e81818"/>
<rect x="397.40" y="723.80" width="4.90" height="94.20" rx="2.45" ry="4.41" fill="#e81818"/>
<rect x="399.12" y="747.35" width="1.47" height="47.10" rx="0.74" ry="1.47" fill="#f04040"/>
<rect x="398.00" y="810.00" width="3.50" height="60.00" rx="1.75" ry="3.15" fill="#e81818"/>
<ellipse cx="399.70" cy="891.00" rx="2.80" ry="27.50" fill="none" stroke="#ee3a3a" stroke-width="1.0" opacity="1.0"/>
<ellipse cx="399.70" cy="891.00" rx="1.15" ry="13.50" fill="none" stroke="#ee3a3a" stroke-width="1.0" opacity="1.0"/>
<rect x="425.90" y="704.30" width="2.00" height="113.40" rx="1.00" ry="1.80" fill="#ee3a3a"/>
<rect x="425.40" y="720.00" width="3.00" height="80.00" rx="1.50" ry="2.70" fill="#e81818"/>
<ellipse cx="471.80" cy="764.60" rx="4.20" ry="50.60" fill="none" stroke="#ee3a3a" stroke-width="1.0" opacity="1.0"/>
<ellipse cx="471.80" cy="764.60" rx="2.08" ry="27.61" fill="none" stroke="#ee3a3a" stroke-width="1.0" opacity="1.0"/>
<rect x="474.50" y="725.00" width="2.70" height="35.00" rx="1.35" ry="2.43" fill="#ee3a3a"/>
<polygon points="507.00,662.20 508.40,662.20 509.40,705.00 506.00,705.00" fill="#b80000"/>
<ellipse cx="505.75" cy="766.60" rx="8.15" ry="56.20" fill="#fbdede" stroke="#f06060" stroke-width="1.0" opacity="1.0"/>
<ellipse cx="506.50" cy="766.60" rx="5.80" ry="52.00" fill="none" stroke="#f06060" stroke-width="1.0" opacity="1.0"/>
<rect x="503.80" y="702.00" width="6.80" height="120.00" rx="3.40" ry="6.12" fill="#d21010"/>
<rect x="506.35" y="714.00" width="1.70" height="96.00" rx="0.85" ry="1.70" fill="#f05050"/>
<polygon points="500.00,815.00 503.00,815.00 502.25,841.00 500.75,841.00" fill="#ee3a3a"/>
<rect x="544.40" y="706.70" width="4.20" height="83.30" rx="2.10" ry="3.78" fill="#e81818"/>
<rect x="545.66" y="723.36" width="1.68" height="49.98" rx="0.84" ry="1.68" fill="#d81010"/>
<polygon points="544.80,780.00 548.40,780.00 547.90,835.00 545.30,835.00" fill="#e01c1c"/>
<polygon points="546.40,825.00 548.80,825.00 548.40,858.00 546.80,858.00" fill="#c80000"/>
<rect x="57.60" y="888.00" width="1.60" height="28.00" rx="0.80" ry="1.44" fill="#f07070"/>
<rect x="70.80" y="891.50" width="3.80" height="22.80" rx="1.90" ry="3.42" fill="#f07070"/>
<rect x="81.00" y="897.00" width="1.60" height="10.00" rx="0.80" ry="1.44" fill="#f07070"/>
<rect x="117.80" y="886.30" width="3.00" height="31.50" rx="1.50" ry="2.70" fill="#f07070"/>
<rect x="240.30" y="883.30" width="1.80" height="38.50" rx="0.90" ry="1.62" fill="#f07070"/>
<rect x="271.80" y="883.30" width="1.80" height="38.50" rx="0.90" ry="1.62" fill="#f07070"/>
<ellipse cx="256.90" cy="903.25" rx="8.10" ry="40.95" fill="#f28080" stroke="none" stroke-width="1.0" opacity="1.0"/>
<ellipse cx="256.75" cy="903.00" rx="5.25" ry="39.00" fill="#e23030" stroke="none" stroke-width="1.0" opacity="1.0"/>
<ellipse cx="256.45" cy="903.00" rx="2.85" ry="37.00" fill="#b80000" stroke="none" stroke-width="1.0" opacity="1.0"/>
<ellipse cx="256.45" cy="903.00" rx="1.00" ry="31.45" fill="#d04040" stroke="none" stroke-width="1.0" opacity="1.0"/>
<rect x="361.00" y="898.70" width="1.40" height="8.20" rx="0.70" ry="1.26" fill="#f07070"/>
<rect x="366.00" y="898.70" width="1.40" height="8.20" rx="0.70" ry="1.26" fill="#f07070"/>
<polygon points="441.30,846.60 442.30,846.60 442.90,864.00 440.70,864.00" fill="#ee3a3a"/>
<rect x="429" y="863.5" width="24" height="79.10000000000002" rx="8" ry="10" fill="none" stroke="#f05050" stroke-width="1"/>
<rect x="431.5" y="869" width="20.5" height="68" rx="8" ry="10" fill="none" stroke="#f05050" stroke-width="1"/>
<rect x="434" y="875" width="17" height="56" rx="8" ry="10" fill="none" stroke="#f05050" stroke-width="1"/>
<ellipse cx="423.75" cy="902.00" rx="3.25" ry="23.50" fill="none" stroke="#ee3a3a" stroke-width="1.0" opacity="1.0"/>
<ellipse cx="423.75" cy="902.00" rx="1.38" ry="11.50" fill="none" stroke="#ee3a3a" stroke-width="1.0" opacity="1.0"/>
<rect x="424.80" y="893.00" width="3.20" height="19.00" rx="1.60" ry="2.88" fill="#ee3a3a"/>
<ellipse cx="440.00" cy="902.50" rx="2.50" ry="15.00" fill="none" stroke="#ee3a3a" stroke-width="1.0" opacity="1.0"/>
<ellipse cx="440.00" cy="902.50" rx="0.70" ry="5.70" fill="none" stroke="#ee3a3a" stroke-width="1.0" opacity="1.0"/>
<ellipse cx="449.25" cy="902.75" rx="3.75" ry="38.75" fill="#f27878" stroke="none" stroke-width="1.0" opacity="1.0"/>
<ellipse cx="449.25" cy="902.75" rx="3.25" ry="38.25" fill="none" stroke="#e43030" stroke-width="1.0" opacity="1.0"/>
<ellipse cx="449.25" cy="902.75" rx="1.94" ry="24.69" fill="none" stroke="#e43030" stroke-width="1.0" opacity="1.0"/>
<ellipse cx="449.25" cy="902.75" rx="0.63" ry="11.13" fill="none" stroke="#e43030" stroke-width="1.0" opacity="1.0"/>
<ellipse cx="469.25" cy="902.30" rx="2.05" ry="7.20" fill="none" stroke="#ee3a3a" stroke-width="1.0" opacity="1.0"/>
<ellipse cx="469.25" cy="902.30" rx="0.30" ry="1.81" fill="none" stroke="#ee3a3a" stroke-width="1.0" opacity="1.0"/>
<rect x="470.60" y="893.00" width="1.40" height="17.00" rx="0.70" ry="1.26" fill="#f07070"/>
<ellipse cx="479.40" cy="902.35" rx="1.70" ry="13.55" fill="none" stroke="#ee3a3a" stroke-width="1.0" opacity="1.0"/>
<ellipse cx="479.40" cy="902.35" rx="0.30" ry="3.72" fill="none" stroke="#ee3a3a" stroke-width="1.0" opacity="1.0"/>
<ellipse cx="488.90" cy="900.30" rx="3.95" ry="30.05" fill="none" stroke="#ee3a3a" stroke-width="0.9" opacity="1.0"/>
<ellipse cx="488.90" cy="900.30" rx="2.52" ry="20.14" fill="none" stroke="#ee3a3a" stroke-width="0.9" opacity="1.0"/>
<ellipse cx="488.90" cy="900.30" rx="1.09" ry="10.22" fill="none" stroke="#ee3a3a" stroke-width="0.9" opacity="1.0"/>
<rect x="511.40" y="869.80" width="1.60" height="56.20" rx="0.80" ry="1.44" fill="#ee3a3a"/>
<ellipse cx="533.15" cy="899.10" rx="3.45" ry="43.80" fill="#f27e7e" stroke="none" stroke-width="1.0" opacity="1.0"/>
<ellipse cx="533.15" cy="899.10" rx="2.95" ry="43.30" fill="none" stroke="#e42424" stroke-width="1.0" opacity="1.0"/>
<ellipse cx="533.15" cy="899.10" rx="1.74" ry="27.97" fill="none" stroke="#e42424" stroke-width="1.0" opacity="1.0"/>
<ellipse cx="533.15" cy="899.10" rx="0.53" ry="12.64" fill="none" stroke="#e42424" stroke-width="1.0" opacity="1.0"/>
<ellipse cx="550.70" cy="898.70" rx="6.25" ry="44.45" fill="none" stroke="#ee3a3a" stroke-width="1.1" opacity="1.0"/>
<ellipse cx="550.70" cy="898.70" rx="4.21" ry="30.95" fill="none" stroke="#ee3a3a" stroke-width="1.1" opacity="1.0"/>
<ellipse cx="550.70" cy="898.70" rx="2.17" ry="17.45" fill="none" stroke="#ee3a3a" stroke-width="1.1" opacity="1.0"/>
<rect x="544.00" y="885.00" width="3.50" height="30.00" rx="1.75" ry="3.15" fill="#ee3a3a"/>
<rect x="73.50" y="1283.50" width="7.10" height="88.10" rx="3.55" ry="6.39" fill="#e81818"/>
<rect x="75.28" y="1303.32" width="3.55" height="48.45" rx="1.77" ry="3.55" fill="#d40000"/>
<rect x="358.70" y="1285.10" width="6.40" height="83.50" rx="2.24" ry="2.2" fill="#e81818"/>
<rect x="360.62" y="1297.62" width="2.56" height="58.45" rx="1.28" ry="2.56" fill="#dc0000"/>
<rect x="373.00" y="1285.10" width="6.70" height="84.10" rx="2.34" ry="2.2" fill="#e81818"/>
<rect x="375.01" y="1297.72" width="2.68" height="58.87" rx="1.34" ry="2.68" fill="#dc0000"/>
<polygon points="506.35,1215.30 507.65,1215.30 508.50,1283.00 505.50,1283.00" fill="#d00000"/>
<rect x="499.70" y="1281.80" width="9.50" height="62.00" rx="4.75" ry="8.55" fill="#f25a5a"/>
<rect x="500.3" y="1283" width="8.3" height="59.6" rx="4" ry="7" fill="none" stroke="#e82020" stroke-width="1"/>
<rect x="503.00" y="1283.00" width="5.60" height="58.00" rx="2.80" ry="5.04" fill="#c80000"/>
<rect x="505.10" y="1288.80" width="1.40" height="46.40" rx="0.70" ry="1.40" fill="#e03030"/>
<polygon points="503.30,1340.00 505.10,1340.00 504.80,1373.70 503.60,1373.70" fill="#e81818"/>
<rect x="543.50" y="1286.90" width="4.40" height="75.10" rx="2.20" ry="3.96" fill="#e81818"/>
<rect x="544.82" y="1298.16" width="1.76" height="52.57" rx="0.88" ry="1.76" fill="#d80000"/>
<polygon points="544.60,1355.00 547.20,1355.00 546.50,1379.60 545.30,1379.60" fill="#e81818"/>
<ellipse cx="239.35" cy="1470.70" rx="0.75" ry="3.70" fill="#f07070" stroke="none" stroke-width="1.0" opacity="1.0"/>
<ellipse cx="255.20" cy="1470.80" rx="6.60" ry="31.80" fill="#f27a7a" stroke="none" stroke-width="1.0" opacity="1.0"/>
<ellipse cx="255.25" cy="1470.50" rx="4.75" ry="30.50" fill="#e02828" stroke="none" stroke-width="1.0" opacity="1.0"/>
<ellipse cx="255.20" cy="1470.50" rx="3.30" ry="29.50" fill="#b80000" stroke="none" stroke-width="1.0" opacity="1.0"/>
<ellipse cx="255.20" cy="1470.50" rx="0.99" ry="25.07" fill="#d04040" stroke="none" stroke-width="1.0" opacity="1.0"/>
<ellipse cx="423.00" cy="1470.90" rx="0.80" ry="1.10" fill="#f07070" stroke="none" stroke-width="1.0" opacity="1.0"/>
<path d="M444,1442 C431.4,1441 428.4,1446 428.4,1464.75 L428.4,1476.75 C428.4,1495.5 431.4,1500.5 444,1499.5" fill="none" stroke="#ee3a3a" stroke-width="1.1"/>
<path d="M444,1450 C435.5,1449 432.5,1454 432.5,1464.5 L432.5,1476.5 C432.5,1487 435.5,1492 444,1491" fill="none" stroke="#ee3a3a" stroke-width="1.1"/>
<ellipse cx="439.50" cy="1470.50" rx="2.50" ry="14.00" fill="none" stroke="#ee3a3a" stroke-width="1.0" opacity="1.0"/>
<ellipse cx="439.50" cy="1470.50" rx="1.00" ry="6.75" fill="none" stroke="#ee3a3a" stroke-width="1.0" opacity="1.0"/>
<ellipse cx="447.45" cy="1470.85" rx="3.45" ry="29.75" fill="#f07878" stroke="none" stroke-width="1.0" opacity="1.0"/>
<ellipse cx="447.45" cy="1470.85" rx="2.95" ry="29.25" fill="none" stroke="#e42424" stroke-width="1.0" opacity="1.0"/>
<ellipse cx="447.45" cy="1470.85" rx="1.74" ry="18.84" fill="none" stroke="#e42424" stroke-width="1.0" opacity="1.0"/>
<ellipse cx="447.45" cy="1470.85" rx="0.53" ry="8.43" fill="none" stroke="#e42424" stroke-width="1.0" opacity="1.0"/>
<ellipse cx="488.55" cy="1470.25" rx="2.35" ry="12.55" fill="none" stroke="#ee3a3a" stroke-width="1.0" opacity="1.0"/>
<ellipse cx="488.55" cy="1470.25" rx="0.64" ry="4.72" fill="none" stroke="#ee3a3a" stroke-width="1.0" opacity="1.0"/>
<ellipse cx="511.25" cy="1470.25" rx="0.75" ry="13.05" fill="#ee3a3a" stroke="none" stroke-width="1.0" opacity="1.0"/>
<ellipse cx="532.20" cy="1470.85" rx="3.10" ry="29.75" fill="#f27e7e" stroke="none" stroke-width="1.0" opacity="1.0"/>
<ellipse cx="532.20" cy="1470.85" rx="2.60" ry="29.25" fill="none" stroke="#e42424" stroke-width="1.0" opacity="1.0"/>
<ellipse cx="532.20" cy="1470.85" rx="1.51" ry="18.84" fill="none" stroke="#e42424" stroke-width="1.0" opacity="1.0"/>
<ellipse cx="532.20" cy="1470.85" rx="0.43" ry="8.43" fill="none" stroke="#e42424" stroke-width="1.0" opacity="1.0"/>
<ellipse cx="551.50" cy="1470.90" rx="4.30" ry="30.40" fill="none" stroke="#ee3a3a" stroke-width="1.2" opacity="1.0"/>
<ellipse cx="551.50" cy="1470.90" rx="2.83" ry="21.10" fill="none" stroke="#ee3a3a" stroke-width="1.2" opacity="1.0"/>
<ellipse cx="551.50" cy="1470.90" rx="1.36" ry="11.80" fill="none" stroke="#ee3a3a" stroke-width="1.2" opacity="1.0"/>
<ellipse cx="545.50" cy="1471.00" rx="1.50" ry="4.00" fill="#ee3a3a" stroke="none" stroke-width="1.0" opacity="1.0"/>
<polygon points="552.65,1428.70 554.15,1428.70 554.40,1442.00 552.40,1442.00" fill="#ee3a3a"/>
<text x="54.20" y="490.40" font-size="23" text-anchor="middle" >5.5</text>
<text x="161.60" y="490.40" font-size="23" text-anchor="middle" >4.5</text>
<text x="268.70" y="490.40" font-size="23" text-anchor="middle" >3.5</text>
<text x="376.00" y="490.40" font-size="23" text-anchor="middle" >2.5</text>
<text x="484.00" y="490.40" font-size="23" text-anchor="middle" >1.5</text>
<text x="590.60" y="490.40" font-size="23" text-anchor="middle" >0.5</text>
<text x="50.20" y="1042.40" font-size="22" text-anchor="middle" >5.5</text>
<text x="157.20" y="1042.40" font-size="22" text-anchor="middle" >4.5</text>
<text x="263.50" y="1042.40" font-size="22" text-anchor="middle" >3.5</text>
<text x="370.90" y="1042.40" font-size="22" text-anchor="middle" >2.5</text>
<text x="479.50" y="1042.40" font-size="22" text-anchor="middle" >1.5</text>
<text x="586.10" y="1042.40" font-size="22" text-anchor="middle" >0.5</text>
<text x="51.30" y="1594.90" font-size="22.5" text-anchor="middle" >5.5</text>
<text x="157.90" y="1594.90" font-size="22.5" text-anchor="middle" >4.5</text>
<text x="265.70" y="1594.90" font-size="22.5" text-anchor="middle" >3.5</text>
<text x="373.20" y="1594.90" font-size="22.5" text-anchor="middle" >2.5</text>
<text x="480.70" y="1594.90" font-size="22.5" text-anchor="middle" >1.5</text>
<text x="587.50" y="1594.90" font-size="22.5" text-anchor="middle" >0.5</text>
<text x="318.50" y="518.00" font-size="21.7" text-anchor="middle" >f2 (ppm)</text>
<text x="314.80" y="1070.50" font-size="21.7" text-anchor="middle" >f2 (ppm)</text>
<text x="314.80" y="1622.80" font-size="21.7" text-anchor="middle" >f2 (ppm)</text>
<text x="0.0" y="28.6" font-size="38" stroke="#000" stroke-width="0.6">a<tspan dx="0.1">)</tspan></text>
<text x="0.0" y="587.8" font-size="38" stroke="#000" stroke-width="0.6">b<tspan dx="0.1">)</tspan></text>
<text x="0.0" y="1131.4" font-size="38" stroke="#000" stroke-width="0.6">c<tspan dx="0.1">)</tspan></text>
<text x="599.80" y="84.60" font-size="23">10<tspan font-size="14" dy="-5.5" dx="0.6">-</tspan><tspan font-size="14" dx="1.6">9</tspan></text>
<text x="596.80" y="242.80" font-size="23">10<tspan font-size="14" dy="-5.5" dx="0.6">-</tspan><tspan font-size="14" dx="1.6">10</tspan></text>
<text x="596.80" y="400.90" font-size="23">10<tspan font-size="14" dy="-5.5" dx="0.6">-</tspan><tspan font-size="14" dx="1.6">11</tspan></text>
<text x="594.80" y="642.20" font-size="21.8">3x10<tspan font-size="14.2" dy="-4.6" dx="0.6">-</tspan><tspan font-size="14.2" dx="2.2">10</tspan></text>
<text x="596.80" y="765.00" font-size="21.8">10<tspan font-size="14.2" dy="-4.6" dx="0.6">-</tspan><tspan font-size="14.2" dx="2.2">10</tspan></text>
<text x="596.80" y="1019.30" font-size="21.8">10<tspan font-size="14.2" dy="-4.6" dx="0.6">-</tspan><tspan font-size="14.2" dx="2.2">11</tspan></text>
<text x="595.80" y="1190.10" font-size="21.8">7x10<tspan font-size="14.2" dy="-4.6" dx="0.6">-</tspan><tspan font-size="14.2" dx="2.2">10</tspan></text>
<text x="596.80" y="1362.40" font-size="21.8">10<tspan font-size="14.2" dy="-4.6" dx="0.6">-</tspan><tspan font-size="14.2" dx="2.2">10</tspan></text>
<text x="596.80" y="1560.40" font-size="21.8">10<tspan font-size="14.2" dy="-4.6" dx="0.6">-</tspan><tspan font-size="14.2" dx="2.2">11</tspan></text>
<text transform="translate(678.9,279.90) rotate(-90)" font-size="22.6" text-anchor="middle">f1 (m<tspan font-size="14" dy="-8">2</tspan><tspan dy="8">/sec)</tspan></text>
<text transform="translate(678.9,814.20) rotate(-90)" font-size="22.6" text-anchor="middle">f1 (m<tspan font-size="14" dy="-8">2</tspan><tspan dy="8">/sec)</tspan></text>
<text transform="translate(678.9,1353.00) rotate(-90)" font-size="22.6" text-anchor="middle">f1 (m<tspan font-size="14" dy="-8">2</tspan><tspan dy="8">/sec)</tspan></text>
<line x1="45.3" y1="75.5" x2="45.3" y2="467.3" stroke="#8a8a8a" stroke-width="1.7"/>
<line x1="590.1" y1="75.5" x2="590.1" y2="467.3" stroke="#585858" stroke-width="1.9"/>
<line x1="44.5" y1="76.3" x2="590.9" y2="76.3" stroke="#9a9a9a" stroke-width="1.7"/>
<line x1="44.5" y1="466.5" x2="590.9" y2="466.5" stroke="#6a6a6a" stroke-width="1.9"/>
<line x1="43.0" y1="630.0" x2="43.0" y2="1021.5999999999999" stroke="#909090" stroke-width="1.7"/>
<line x1="586.8" y1="630.0" x2="586.8" y2="1021.5999999999999" stroke="#444444" stroke-width="1.9"/>
<line x1="42.2" y1="630.8" x2="587.5999999999999" y2="630.8" stroke="#7a7a7a" stroke-width="1.7"/>
<line x1="42.2" y1="1020.8" x2="587.5999999999999" y2="1020.8" stroke="#404040" stroke-width="1.9"/>
<line x1="46.8" y1="1181.6000000000001" x2="46.8" y2="1572.6" stroke="#888888" stroke-width="1.7"/>
<line x1="590.9" y1="1181.6000000000001" x2="590.9" y2="1572.6" stroke="#555555" stroke-width="1.9"/>
<line x1="46.0" y1="1182.4" x2="591.6999999999999" y2="1182.4" stroke="#606060" stroke-width="1.7"/>
<line x1="46.0" y1="1571.8" x2="591.6999999999999" y2="1571.8" stroke="#666666" stroke-width="1.9"/>
</svg>
</body></html>
